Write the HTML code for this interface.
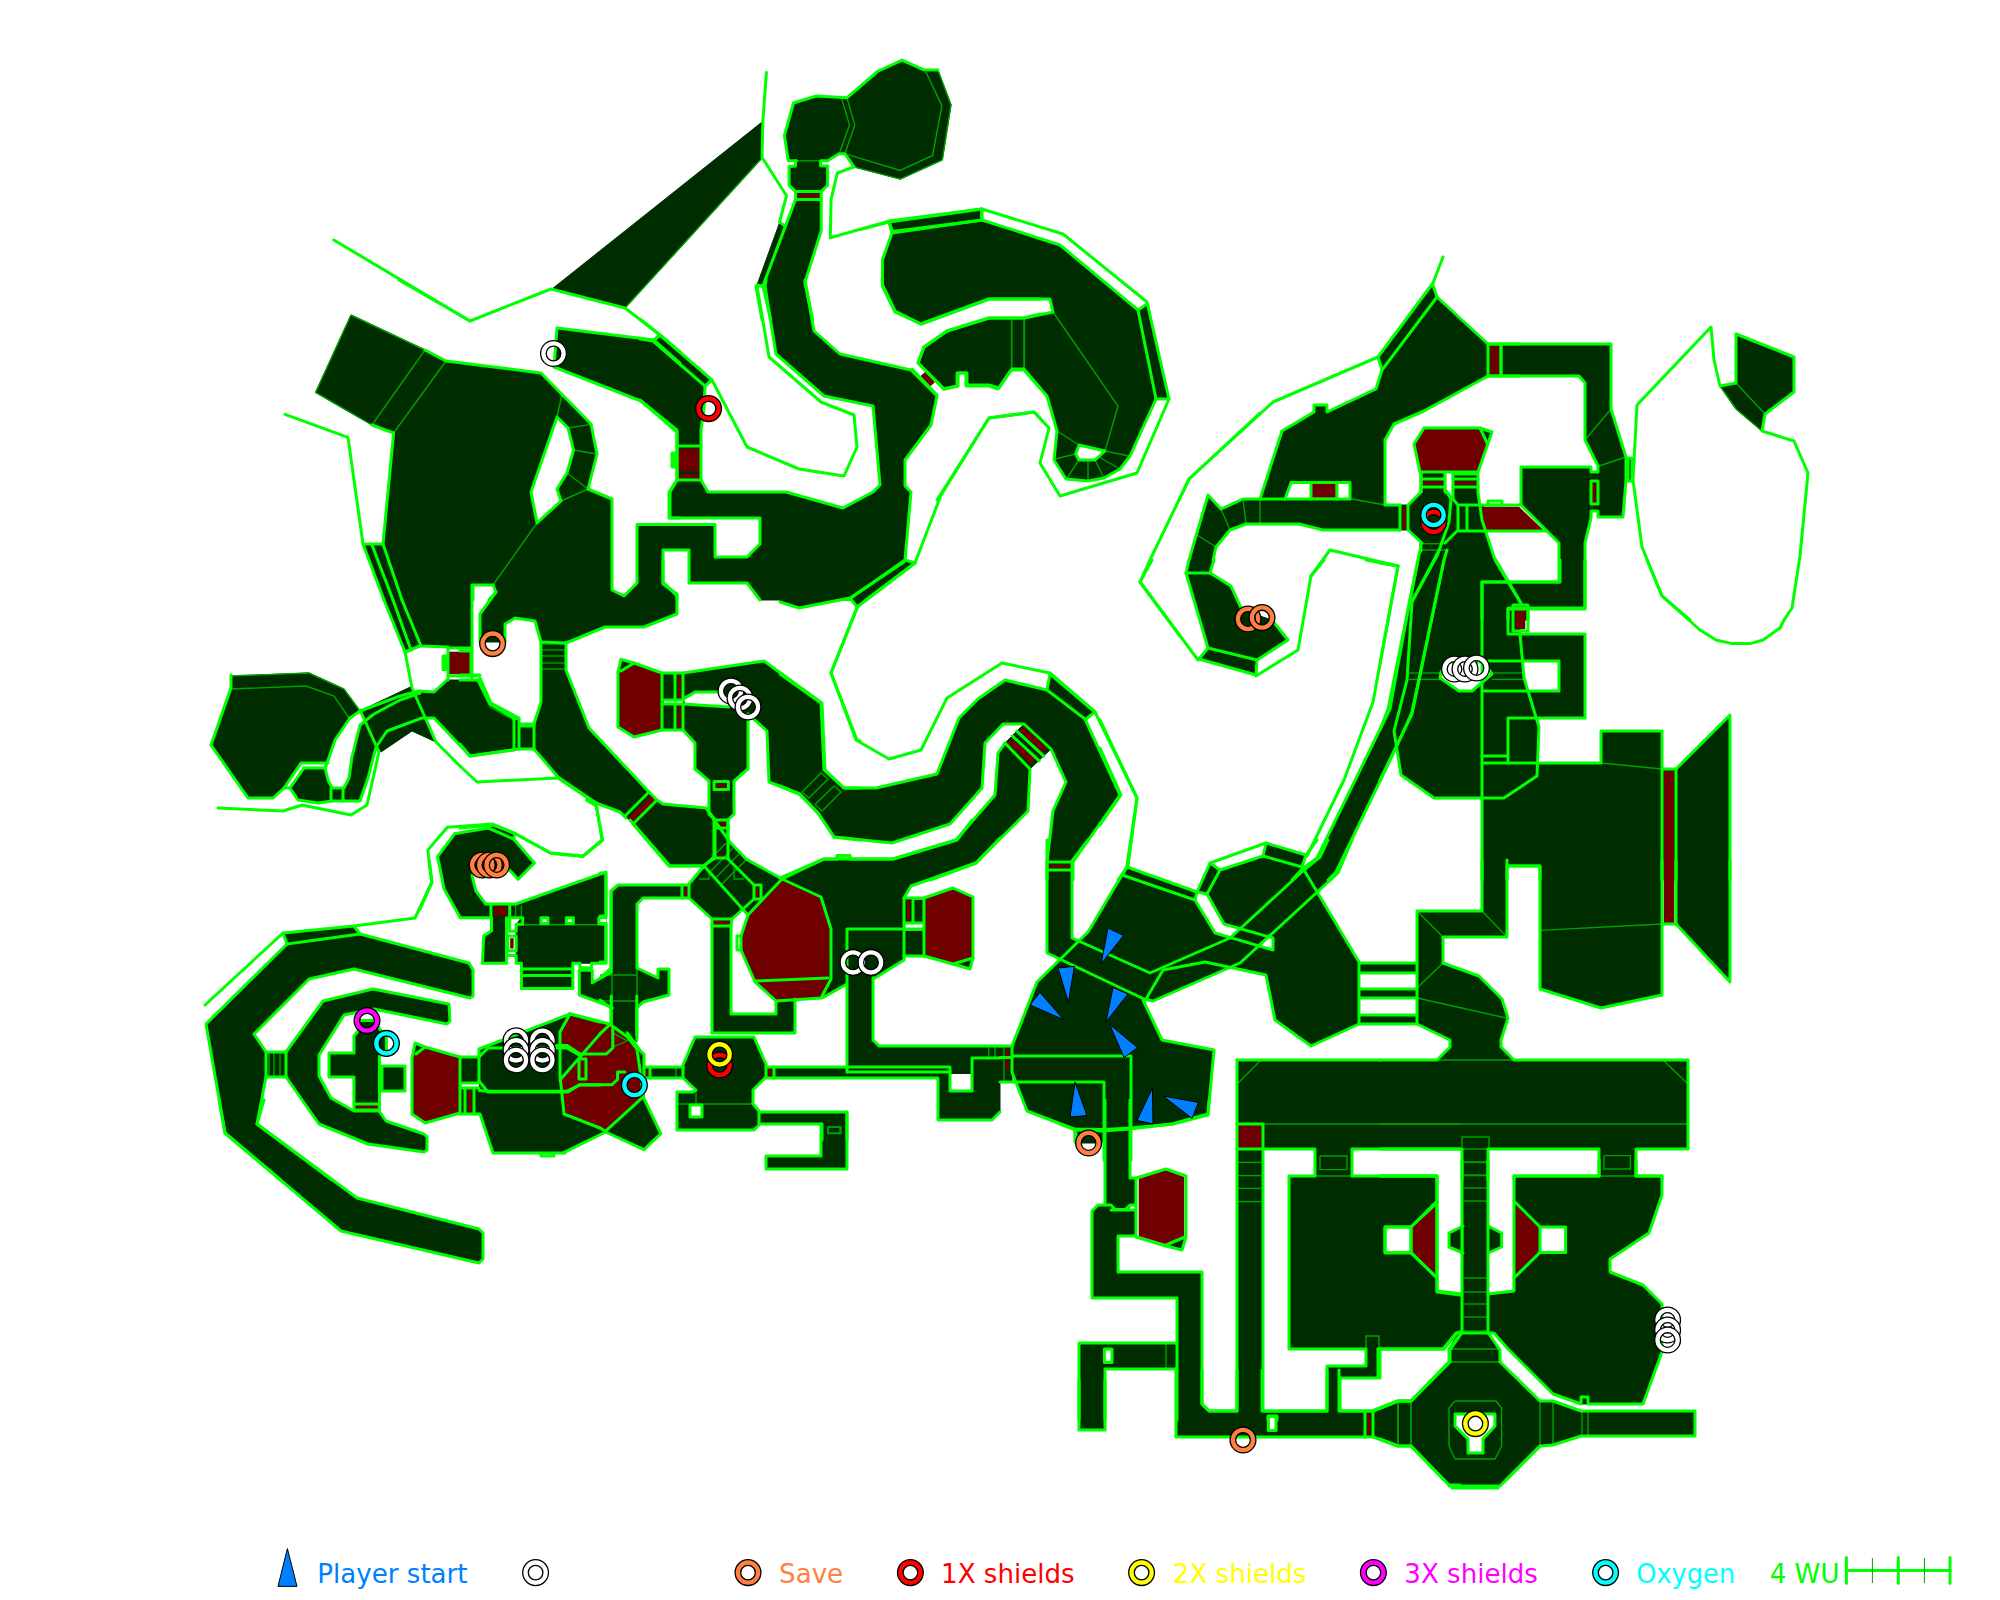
<!DOCTYPE html>
<html><head><meta charset="utf-8"><title>Map</title>
<style>html,body{margin:0;padding:0;background:#fff}svg{display:block}text{font-family:"DejaVu Sans","Liberation Sans",sans-serif}</style>
</head><body>
<svg width="2000" height="1600" viewBox="0 0 2000 1600">
<rect width="2000" height="1600" fill="#fff"/>
<g fill="#002d00" stroke="#002d00" stroke-width="1" stroke-linejoin="round">
<polygon points="793.5,103.0 816.3,96.0 846.9,97.8 854.8,124.9 845.1,152.9 839.0,153.8 827.6,159.9 788.3,159.9 784.4,135.4"/>
<polygon points="846.9,97.8 877.5,71.5 902.0,60.1 923.9,69.8 937.9,70.1 951.0,104.8 942.3,159.9 900.3,179.1 853.9,166.9 845.1,152.9 854.8,124.9"/>
<polygon points="797.0,159.9 819.4,159.9 819.4,167.4 797.0,167.4"/>
<polygon points="789.1,167.4 827.3,167.4 827.3,185.3 821.2,190.9 795.6,190.9 789.1,185.3"/>
<polygon points="795.6,190.9 821.2,190.9 821.2,200.1 795.6,200.1"/>
<polygon points="779.5,222.9 783.9,225.5 762.9,285.9 757.1,284.7"/>
<polygon points="351.0,315.0 425.0,350.0 446.0,361.0 393.6,433.0 372.0,425.0 315.6,392.4"/>
<polygon points="446.0,361.0 541.0,373.0 561.6,396.0 557.0,417.0 531.0,492.0 537.0,523.0 493.0,585.0 473.0,585.0 473.0,600.0 402.0,600.0 383.0,544.0 393.6,433.0"/>
<polygon points="561.6,396.0 591.0,424.0 597.0,454.0 588.0,489.0 561.0,501.0 557.0,489.0 567.0,473.0 573.6,450.0 568.0,428.0 557.0,417.0"/>
<polygon points="537.0,523.0 561.0,501.0 588.0,489.0 612.0,499.0 612.0,590.0 624.0,596.0 637.0,583.0 637.0,524.4 662.0,524.4 662.0,600.0 489.0,600.0 496.0,592.0 493.0,585.0"/>
<polygon points="363.6,545.0 383.0,545.0 402.0,600.0 384.4,600.0"/>
<polygon points="557.0,328.0 654.0,340.0 660.0,335.0 680.0,352.0 680.0,480.0 677.0,480.0 677.0,430.0 641.0,401.0 554.0,367.0"/>
<polygon points="677.0,480.0 669.0,492.0 669.0,518.0 680.0,518.0 680.0,480.0"/>
<polygon points="552.0,289.0 762.0,122.0 762.0,158.0 625.0,308.0"/>
<polygon points="655.0,339.0 660.0,335.0 710.0,379.0 705.0,385.0"/>
<polygon points="640.0,339.0 653.0,341.0 705.0,386.0 704.0,408.0 701.0,430.0 701.0,446.0 677.0,446.0 677.0,432.0 640.0,400.0"/>
<polygon points="677.0,446.0 701.0,446.0 701.0,480.0 677.0,480.0"/>
<polygon points="765.0,286.0 766.0,280.0 805.0,280.0 814.0,331.0 840.0,354.0 911.0,370.0 937.0,396.0 931.0,425.0 905.0,460.0 905.0,486.0 911.0,492.0 905.0,560.0 851.0,598.0 848.0,600.0 760.0,600.0 747.0,583.0 689.0,583.0 689.0,550.0 663.0,550.0 663.0,584.0 677.0,594.0 677.0,600.0 640.0,600.0 640.0,524.4 715.0,524.4 715.0,557.0 747.0,557.0 760.0,544.0 760.0,518.0 670.0,518.0 670.0,492.0 677.0,480.0 701.0,480.0 708.0,492.0 786.0,492.0 843.0,508.0 873.0,492.0 880.0,485.0 873.0,406.0 824.0,396.0 776.0,354.0"/>
<polygon points="905.0,560.0 915.0,563.0 866.0,600.0 848.0,600.0"/>
<polygon points="882.0,280.0 883.0,286.0 895.0,311.0 921.0,324.0 989.0,299.0 1040.0,299.0 1040.0,280.0"/>
<polygon points="918.0,363.0 924.0,347.0 947.0,331.0 989.0,318.0 1024.0,318.0 1040.0,314.0 1040.0,388.0 1024.0,369.0 1012.0,369.0 999.0,388.0 989.0,385.0 967.0,385.0 967.0,373.0 957.0,373.0 957.0,386.0 944.0,389.0"/>
<polygon points="889.0,222.0 982.0,209.0 982.0,220.0 892.0,233.0"/>
<polygon points="892.0,233.0 982.0,220.0 1060.0,245.0 1138.0,310.0 1156.0,399.0 1130.0,456.0 1120.0,469.0 1104.0,478.0 1088.0,481.0 1066.0,479.0 1054.0,460.0 1057.0,431.0 1047.0,396.0 1024.0,370.0 1011.0,370.0 998.0,389.0 989.0,386.0 966.0,386.0 966.0,373.0 958.0,373.0 958.0,386.0 944.0,389.0 918.0,363.0 924.0,347.0 947.0,331.0 989.0,318.0 1024.0,318.0 1053.0,312.0 1050.0,299.0 989.0,299.0 921.0,324.0 895.0,312.0 882.4,286.0 882.4,260.0"/>
<polygon points="1138.0,310.0 1147.0,304.0 1168.0,398.0 1156.0,399.0"/>
<polygon points="795.3,200.1 821.2,200.1 821.2,230.8 804.9,282.4 812.8,320.0 770.8,320.0 762.9,285.9"/>
<polygon points="1437.0,297.0 1488.0,344.0 1488.0,376.0 1424.0,411.0 1394.0,424.0 1385.0,440.0 1385.0,505.0 1352.0,499.0 1350.0,499.0 1350.0,482.4 1291.0,482.4 1285.0,499.0 1260.0,499.0 1282.0,431.0 1314.0,412.0 1314.0,405.0 1327.0,405.0 1327.0,412.0 1376.0,389.0 1382.0,370.0"/>
<polygon points="1378.0,357.0 1433.0,285.0 1437.0,297.0 1382.0,370.0"/>
<polygon points="1488.0,344.0 1520.0,344.0 1520.0,376.0 1488.0,376.0"/>
<polygon points="1208.0,495.0 1221.0,509.0 1243.0,499.0 1352.0,499.0 1385.0,505.0 1400.0,505.0 1400.0,530.0 1323.0,530.0 1299.0,524.0 1246.0,524.0 1230.0,530.0 1216.0,547.0 1213.0,560.0 1189.0,560.0"/>
<polygon points="1400.0,505.0 1408.0,505.0 1408.0,530.0 1400.0,530.0"/>
<polygon points="1408.0,505.0 1422.0,492.0 1445.0,492.0 1458.0,505.0 1458.0,530.0 1445.0,543.0 1422.0,543.0 1408.0,530.0"/>
<polygon points="1424.0,428.0 1480.0,428.0 1492.0,432.0 1478.0,472.0 1420.0,472.0 1414.0,444.0"/>
<polygon points="1421.0,472.0 1445.0,472.0 1445.0,492.0 1421.0,492.0"/>
<polygon points="1501.0,344.0 1611.0,344.0 1611.0,409.0 1626.0,457.0 1626.0,480.0 1623.0,517.0 1598.0,517.0 1598.0,466.0 1585.0,440.0 1585.0,383.0 1579.0,376.0 1501.0,376.0"/>
<polygon points="1628.0,458.0 1632.0,458.0 1632.0,481.0 1628.0,481.0"/>
<polygon points="1521.0,467.0 1591.0,467.0 1591.0,518.0 1585.0,543.0 1585.0,609.0 1528.0,609.0 1528.0,620.0 1482.0,620.0 1482.0,582.0 1559.0,582.0 1559.0,543.0 1521.0,505.0"/>
<polygon points="1591.0,472.0 1598.0,472.0 1598.0,511.0 1591.0,511.0"/>
<polygon points="1461.0,506.0 1484.0,506.0 1484.0,530.0 1461.0,530.0"/>
<polygon points="1453.0,474.0 1478.0,474.0 1478.0,492.0 1482.0,520.0 1494.0,557.0 1521.0,603.0 1521.0,609.0 1508.0,609.0 1508.0,620.0 1420.0,620.0 1420.0,543.0 1446.0,543.0 1459.0,531.0 1459.0,505.0 1453.0,499.0"/>
<polygon points="1736.0,334.0 1794.0,357.0 1794.0,392.0 1765.0,414.0 1736.0,383.0"/>
<polygon points="1720.0,386.0 1736.0,383.0 1765.0,414.0 1762.0,431.0 1736.0,409.0"/>
<polygon points="1492.0,550.0 1495.0,560.0 1520.0,602.0 1520.0,634.0 1524.0,678.0 1539.0,727.0 1537.0,776.0 1504.0,798.0 1434.0,798.0 1401.0,775.0 1394.0,731.0 1388.0,709.0 1420.0,550.0"/>
<polygon points="1482.0,582.0 1560.0,582.0 1560.0,560.0 1585.0,560.0 1585.0,608.0 1508.0,608.0 1508.0,634.0 1585.0,634.0 1585.0,718.0 1508.0,718.0 1508.0,762.0 1482.0,762.0"/>
<polygon points="1508.0,718.0 1536.0,718.0 1539.0,727.0 1537.0,762.0 1508.0,762.0"/>
<polygon points="1482.0,763.0 1601.0,763.0 1601.0,731.0 1662.0,731.0 1662.0,769.0 1676.0,769.0 1730.0,715.0 1730.0,880.0 1540.0,880.0 1540.0,866.0 1507.0,866.0 1507.0,880.0 1482.0,880.0"/>
<polygon points="1540.0,860.0 1662.0,860.0 1662.0,995.0 1601.0,1008.0 1540.0,989.0"/>
<polygon points="1676.0,860.0 1730.0,860.0 1730.0,982.0 1676.0,924.0"/>
<polygon points="1482.0,860.0 1507.0,860.0 1507.0,937.0 1443.0,937.0 1443.0,963.0 1479.0,976.0 1502.0,999.0 1508.0,1018.0 1501.0,1040.0 1501.0,1047.0 1514.0,1060.0 1437.0,1060.0 1450.0,1047.0 1450.0,1040.0 1417.0,1024.0 1417.0,911.0 1482.0,911.0"/>
<polygon points="1380.0,1060.0 1688.0,1060.0 1688.0,1149.0 1636.0,1149.0 1636.0,1180.0 1599.0,1180.0 1599.0,1149.0 1488.0,1149.0 1488.0,1180.0 1462.0,1180.0 1462.0,1149.0 1380.0,1149.0"/>
<polygon points="1360.0,963.0 1417.0,963.0 1417.0,973.0 1360.0,973.0"/>
<polygon points="1360.0,989.0 1417.0,989.0 1417.0,998.0 1360.0,998.0"/>
<polygon points="1360.0,1015.0 1417.0,1015.0 1417.0,1024.0 1360.0,1024.0"/>
<polygon points="1462.0,1160.0 1488.0,1160.0 1488.0,1333.0 1462.0,1333.0"/>
<polygon points="1449.0,1233.0 1463.0,1226.0 1488.0,1226.0 1501.6,1233.0 1501.6,1247.0 1488.0,1253.0 1463.0,1253.0 1449.0,1247.0"/>
<polygon points="1514.0,1176.0 1599.0,1176.0 1599.0,1160.0 1636.0,1160.0 1636.0,1176.0 1662.0,1176.0 1662.0,1195.0 1649.0,1233.0 1610.0,1259.0 1610.0,1272.0 1643.0,1285.0 1662.0,1304.0 1662.0,1352.0 1643.0,1404.0 1581.0,1404.0 1553.0,1394.0 1508.0,1349.0 1494.0,1333.0 1488.0,1333.0 1488.0,1294.0 1514.0,1291.0"/>
<polygon points="1380.0,1176.0 1437.0,1176.0 1437.0,1291.0 1462.0,1294.0 1462.0,1333.0 1456.0,1333.0 1443.0,1349.0 1380.0,1349.0"/>
<polygon points="1461.0,1334.0 1489.0,1334.0 1500.0,1350.0 1500.0,1362.0 1540.0,1401.0 1540.0,1446.0 1506.0,1480.0 1444.0,1480.0 1411.0,1446.0 1411.0,1401.0 1450.0,1362.0 1450.0,1350.0"/>
<polygon points="1540.0,1401.0 1553.0,1401.0 1581.0,1411.0 1695.0,1411.0 1695.0,1436.0 1581.0,1436.0 1553.0,1445.0 1540.0,1445.0"/>
<polygon points="1411.0,1401.0 1398.0,1401.0 1380.0,1408.0 1380.0,1439.0 1398.0,1446.0 1411.0,1446.0"/>
<polygon points="1237.0,1060.0 1460.0,1060.0 1460.0,1149.0 1352.0,1149.0 1352.0,1176.0 1315.0,1176.0 1315.0,1149.0 1263.0,1149.0 1263.0,1412.0 1262.0,1420.0 1237.0,1420.0"/>
<polygon points="1289.0,1176.0 1437.0,1176.0 1437.0,1292.0 1460.0,1295.0 1460.0,1332.0 1457.0,1333.0 1444.0,1349.0 1378.0,1349.0 1378.0,1378.0 1340.0,1378.0 1340.0,1411.0 1327.0,1411.0 1327.0,1366.0 1366.0,1366.0 1366.0,1349.0 1289.0,1349.0"/>
<polygon points="1460.0,1332.0 1460.0,1420.0 1372.0,1420.0 1372.0,1411.0 1398.0,1401.0 1411.0,1401.0 1449.0,1362.0 1449.0,1349.0 1457.0,1334.0"/>
<polygon points="1105.0,1130.0 1130.0,1130.0 1130.0,1178.0 1136.0,1178.0 1136.0,1236.0 1118.0,1236.0 1118.0,1272.0 1202.0,1272.0 1202.0,1404.0 1209.0,1411.0 1237.0,1411.0 1237.0,1420.0 1177.0,1420.0 1177.0,1298.0 1092.0,1298.0 1092.0,1211.0 1098.0,1205.0 1105.0,1205.0"/>
<polygon points="1166.0,1245.0 1184.0,1237.0 1182.0,1249.0"/>
<polygon points="1060.0,1100.0 1209.0,1100.0 1208.0,1114.0 1172.0,1124.0 1130.0,1129.0 1102.0,1131.0 1076.0,1130.0 1060.0,1124.0"/>
<polygon points="1076.0,1130.0 1101.0,1131.0 1101.0,1143.0 1076.0,1143.0"/>
<polygon points="1079.0,1343.0 1176.0,1343.0 1176.0,1369.0 1105.0,1369.0 1105.0,1420.0 1079.0,1420.0"/>
<polygon points="1079.0,1380.0 1105.0,1380.0 1105.0,1430.0 1079.0,1430.0"/>
<polygon points="1176.0,1370.0 1202.0,1370.0 1202.0,1404.0 1209.0,1411.0 1237.0,1411.0 1237.0,1370.0 1262.0,1370.0 1262.0,1411.0 1327.0,1411.0 1327.0,1370.0 1339.0,1370.0 1339.0,1411.0 1365.0,1411.0 1365.0,1437.0 1176.0,1437.0"/>
<polygon points="1365.0,1411.0 1373.0,1411.0 1373.0,1437.0 1365.0,1437.0"/>
<polygon points="1373.0,1411.0 1398.0,1401.0 1411.0,1401.0 1411.0,1446.0 1398.0,1446.0 1373.0,1437.0"/>
<polygon points="1411.0,1446.0 1449.0,1486.0 1500.0,1486.0 1540.0,1446.0 1540.0,1400.0 1411.0,1400.0"/>
<polygon points="1047.0,840.0 1088.0,840.0 1072.0,861.0 1072.0,939.0 1150.0,974.0 1230.0,939.0 1304.0,871.0 1320.0,857.0 1328.0,840.0 1352.0,840.0 1338.0,873.0 1240.0,963.0 1153.0,1001.0 1144.0,999.0 1047.0,953.0"/>
<polygon points="1012.0,1046.0 1037.0,982.0 1088.0,932.0 1122.0,875.0 1127.0,867.0 1197.0,892.0 1195.0,900.0 1215.0,933.0 1230.0,938.0 1150.0,974.0 1143.0,1000.0 1162.0,1040.0 1214.0,1050.0 1208.0,1115.0 1173.0,1124.0 1131.0,1128.0 1131.0,1160.0 1104.0,1160.0 1104.0,1142.0 1075.0,1142.0 1074.0,1129.0 1027.0,1111.0 1012.0,1072.0"/>
<polygon points="1220.0,870.0 1263.0,856.0 1302.0,867.0 1304.0,870.0 1316.0,890.0 1270.0,936.0 1224.0,924.0 1207.0,894.0"/>
<polygon points="1266.0,843.0 1306.0,855.0 1302.0,867.0 1263.0,856.0"/>
<polygon points="1210.0,863.0 1220.0,870.0 1207.0,894.0 1197.0,891.0"/>
<polygon points="1304.0,870.0 1359.0,962.0 1359.0,1024.0 1311.0,1046.0 1275.0,1020.0 1266.0,975.0 1205.0,962.0 1163.0,970.0 1147.0,999.0 1153.0,1001.0 1240.0,963.0 1270.0,936.0"/>
<polygon points="1000.0,1046.0 1012.0,1046.0 1012.0,1082.0 1000.0,1082.0"/>
<polygon points="1418.0,560.0 1444.0,560.0 1412.0,712.0 1396.0,748.0 1336.0,872.0 1328.0,880.0 1292.0,880.0 1302.0,869.0 1317.0,858.0 1390.0,709.0 1408.0,610.0"/>
<polygon points="1186.0,573.0 1189.0,560.0 1214.0,560.0 1210.0,573.0 1231.0,586.0 1242.0,610.0 1272.0,620.0 1288.0,640.0 1257.0,660.0 1256.0,675.0 1199.0,659.0 1208.0,648.0"/>
<polygon points="1100.0,750.0 1120.0,795.0 1100.0,824.0"/>
<polygon points="780.0,590.0 860.0,590.0 850.0,598.0 799.0,608.0 780.0,602.0"/>
<polygon points="848.0,600.0 868.0,598.0 857.0,607.0 851.0,599.0"/>
<polygon points="780.0,674.0 821.0,703.0 824.0,770.0 844.0,788.0 876.0,788.0 937.0,774.0 959.0,718.0 978.0,699.0 1005.0,680.0 1047.0,690.0 1085.0,719.0 1120.0,795.0 1073.0,862.0 1073.0,880.0 1047.0,880.0 1047.0,862.0 1053.0,811.0 1066.0,782.0 1051.0,749.0 1024.0,724.0 1003.0,724.0 985.0,743.0 982.0,788.0 950.0,824.0 892.0,843.0 834.0,837.0 818.0,813.0 799.0,794.0 780.0,786.0"/>
<polygon points="1050.0,674.0 1095.0,712.0 1086.0,719.0 1047.0,690.0"/>
<polygon points="1005.0,743.0 1030.0,769.0 1028.0,811.0 976.0,863.0 930.0,880.0 780.0,880.0 780.0,878.0 824.0,859.0 893.0,859.0 956.0,840.0 995.0,795.0 998.0,753.0"/>
<polygon points="1005.0,743.0 1024.0,724.0 1051.0,749.0 1030.0,769.0"/>
<polygon points="489.0,600.0 480.0,614.0 480.0,642.0 505.0,642.0 505.0,624.0 515.0,618.0 535.0,621.0 541.0,642.0 566.0,643.0 605.0,627.0 644.0,627.0 677.0,614.0 677.0,598.0 489.0,598.0"/>
<polygon points="541.0,642.0 566.0,643.0 566.0,670.0 541.0,670.0"/>
<polygon points="541.0,670.0 566.0,670.0 589.0,728.0 649.0,792.0 657.0,800.0 663.0,804.0 706.0,808.0 715.0,820.0 715.0,858.0 703.0,866.0 669.0,866.0 633.0,824.0 625.0,816.0 620.0,812.0 596.0,803.0 558.0,777.0 534.0,749.0 534.0,724.0 541.0,702.0"/>
<polygon points="460.0,680.0 478.0,680.0 490.0,704.0 514.0,718.0 519.0,719.0 519.0,726.0 534.0,726.0 534.0,749.0 519.0,749.0 470.0,756.0 460.0,744.0"/>
<polygon points="618.0,672.0 621.0,659.4 634.0,663.0 662.0,673.0 662.0,730.0 634.0,737.0 618.0,727.0"/>
<polygon points="662.0,673.0 683.0,673.0 683.0,730.0 662.0,730.0"/>
<polygon points="683.0,673.0 764.0,661.0 822.0,703.0 825.0,770.0 844.0,788.0 860.0,788.0 860.0,840.0 834.0,837.0 818.0,813.0 800.0,794.0 769.0,782.0 767.0,731.0 748.0,714.0 748.0,769.0 734.0,781.0 734.0,814.0 728.0,820.0 715.0,820.0 709.0,814.0 709.0,781.0 695.0,769.0 695.0,743.0 683.0,730.0"/>
<polygon points="715.0,820.0 728.0,820.0 728.0,858.0 715.0,858.0"/>
<polygon points="630.0,820.0 714.0,820.0 714.0,857.0 704.0,866.0 670.0,866.0"/>
<polygon points="689.0,884.0 714.0,859.0 728.0,859.0 754.0,885.0 754.0,899.0 732.0,919.0 712.0,919.0 689.0,898.0"/>
<polygon points="728.0,840.0 746.0,859.0 782.0,879.0 748.0,915.0 741.0,909.0 754.0,899.0 754.0,885.0 728.0,859.0"/>
<polygon points="682.0,885.0 689.0,885.0 689.0,898.0 682.0,898.0"/>
<polygon points="754.0,885.0 761.0,885.0 761.0,899.0 754.0,899.0"/>
<polygon points="712.0,919.0 732.0,919.0 731.0,926.0 712.0,926.0"/>
<polygon points="611.0,891.0 618.0,885.0 682.0,885.0 682.0,898.0 643.0,898.0 637.0,904.0 637.0,968.0 658.0,978.0 658.0,969.0 669.0,969.0 669.0,995.0 643.0,1002.0 637.0,1008.0 637.0,1042.0 611.0,1024.0 611.0,1008.0 600.0,1000.0 600.0,978.0 611.0,968.0"/>
<polygon points="782.0,879.0 824.0,859.0 893.0,859.0 957.0,840.0 972.0,820.0 1000.0,820.0 1000.0,838.0 976.0,863.0 911.0,886.0 904.0,898.0 904.0,931.0 847.0,931.0 847.0,984.0 824.0,997.0 821.0,998.0 831.0,979.0 831.0,929.0 821.0,897.0"/>
<polygon points="741.0,936.0 748.0,915.0 782.0,879.0 821.0,897.0 831.0,929.0 831.0,979.0 821.0,998.0 776.0,1001.0 755.0,982.0 741.0,950.0"/>
<polygon points="847.0,931.0 923.0,931.0 923.0,956.0 904.0,956.0 904.0,960.0 875.0,978.0 873.0,978.0 873.0,1040.0 879.0,1046.0 1000.0,1046.0 1000.0,1112.0 992.0,1120.0 938.0,1120.0 938.0,1078.0 774.0,1078.0 774.0,1067.0 847.0,1067.0"/>
<polygon points="913.0,900.0 922.4,900.0 922.4,922.0 913.0,922.0"/>
<polygon points="905.0,899.0 913.0,899.0 913.0,923.0 905.0,923.0"/>
<polygon points="924.0,898.0 953.0,888.0 973.0,897.0 973.0,958.0 970.0,969.0 953.0,964.0 924.0,956.0"/>
<polygon points="712.0,926.0 731.0,926.0 731.0,1014.0 776.0,1014.0 776.0,1001.0 795.0,999.0 795.0,1033.0 712.0,1033.0"/>
<polygon points="695.0,1037.0 754.0,1037.0 766.0,1064.0 766.0,1077.0 753.0,1090.0 753.0,1104.0 759.0,1111.0 759.0,1125.0 754.0,1130.0 677.0,1130.0 677.0,1092.0 693.0,1092.0 696.0,1090.0 683.0,1078.0 683.0,1065.0"/>
<polygon points="645.0,1067.0 683.0,1067.0 683.0,1078.0 645.0,1078.0"/>
<polygon points="766.0,1067.0 774.0,1067.0 774.0,1078.0 766.0,1078.0"/>
<polygon points="759.0,1112.0 847.0,1112.0 847.0,1140.0 822.0,1140.0 822.0,1124.0 759.0,1124.0"/>
<polygon points="287.0,944.0 360.0,934.0 469.0,963.0 473.0,970.0 473.0,996.0 470.0,998.0 354.0,969.0 309.0,979.0 254.0,1034.0 266.0,1052.0 266.0,1077.0 257.0,1124.0 332.0,1180.0 280.6,1180.0 225.0,1133.0 206.0,1024.0"/>
<polygon points="283.0,933.0 354.0,926.0 360.0,934.0 287.0,944.0"/>
<polygon points="266.0,1052.0 286.0,1052.0 286.0,1077.0 266.0,1077.0"/>
<polygon points="286.0,1052.0 323.0,1001.0 373.0,989.0 449.0,1004.0 450.0,1021.0 447.0,1024.0 374.0,1009.0 344.0,1015.0 319.0,1055.0 319.0,1076.0 331.0,1098.0 354.0,1111.0 379.0,1111.0 386.0,1121.0 424.0,1134.0 427.0,1137.0 427.0,1150.0 424.0,1152.0 368.0,1144.0 319.0,1124.0 286.0,1077.0"/>
<polygon points="354.0,1036.0 358.0,1031.0 360.0,1020.4 373.0,1020.4 386.4,1037.4 386.4,1050.0 379.4,1056.4 379.4,1110.0 354.0,1110.0 354.0,1077.0 329.0,1077.0 329.0,1053.0 354.0,1053.0"/>
<polygon points="382.0,1066.0 405.0,1066.0 405.0,1091.0 382.0,1091.0"/>
<polygon points="412.0,1058.0 415.0,1043.0 425.0,1047.0 460.0,1057.0 460.0,1113.0 425.0,1123.0 412.0,1114.0"/>
<polygon points="460.0,1057.0 479.0,1057.0 479.0,1049.0 570.0,1014.0 600.0,1022.0 600.0,1128.0 565.0,1153.0 493.0,1153.0 480.0,1114.0 460.0,1114.0"/>
<polygon points="454.5,833.8 488.3,828.0 490.2,825.4 514.9,833.5 513.9,839.0 534.4,863.1 518.2,879.3 508.4,869.6 472.0,872.8 475.9,891.0 485.7,904.0 491.5,904.0 491.5,917.7 460.3,917.7 444.1,889.1 437.6,856.6"/>
<polygon points="485.7,905.3 521.4,905.3 521.4,917.7 485.7,917.7"/>
<polygon points="516.2,924.8 521.4,917.7 521.4,905.3 515.6,904.0 605.9,872.8 605.9,963.2 572.8,963.2 572.8,988.5 521.4,988.5 521.4,963.2 516.2,963.2"/>
<polygon points="491.5,917.7 506.5,917.7 506.5,963.2 482.4,963.2 483.7,935.9 491.5,930.7"/>
<polygon points="579.3,970.3 592.3,970.3 592.3,982.7 611.1,972.3 611.1,1008.0 607.2,1005.4 579.3,995.0"/>
<polygon points="569.6,1013.6 609.6,1024.0 627.2,1036.8 636.8,1048.8 644.0,1054.4 644.0,1096.8 660.8,1133.6 644.0,1149.6 605.6,1132.0 563.2,1152.8 560.0,1082.4"/>
<polygon points="231.0,676.0 309.0,673.0 344.0,689.0 360.0,711.0 350.0,718.0 335.0,740.0 328.0,763.0 301.0,763.0 284.0,788.0 273.0,798.0 248.0,798.0 211.0,745.0 231.0,688.0"/>
<polygon points="361.0,710.4 411.6,686.4 424.0,716.0 436.0,742.0 412.0,731.0 381.0,752.0"/>
<polygon points="374.0,714.0 400.0,700.0 420.0,693.0 426.0,718.0 387.0,731.0 376.0,747.0 368.0,778.0 360.0,801.0 345.0,801.0 345.0,788.0 349.0,778.0 352.0,757.0 360.0,725.0"/>
<polygon points="304.0,768.0 325.0,768.0 328.0,780.0 332.0,788.0 345.0,788.0 345.0,801.0 332.0,801.0 318.0,803.0 298.0,800.0 290.0,788.0"/>
<polygon points="420.0,692.0 434.0,692.0 447.0,680.0 478.0,680.0 490.0,704.0 518.0,719.0 518.0,749.0 470.0,756.0 434.0,718.0 426.0,718.0"/>
<polygon points="402.0,598.0 421.0,646.0 448.0,647.0 448.0,648.0 472.0,648.0 472.0,598.0"/>
<polygon points="383.4,598.0 402.0,598.0 421.0,646.0 411.0,650.0 405.0,651.6"/>
<polygon points="219.2,1100.0 264.0,1100.0 257.0,1124.0 357.0,1198.0 479.0,1229.0 483.0,1233.0 483.0,1259.0 479.0,1263.0 341.0,1231.0 225.0,1133.0"/>
<polygon points="821.0,1124.0 847.0,1124.0 847.0,1169.0 766.0,1169.0 766.0,1156.0 821.0,1156.0"/>
</g>
<g fill="#fff">
<polygon points="1079.0,445.0 1105.0,451.0 1095.0,460.0 1079.0,460.0 1075.6,454.0"/>
<polygon points="1441.0,672.0 1448.0,662.0 1484.0,662.0 1492.0,674.0 1472.0,691.0 1459.0,691.0 1440.0,678.0"/>
<polygon points="1522.4,661.0 1559.0,661.0 1559.0,691.0 1528.0,691.0 1524.0,678.0"/>
<polygon points="1540.0,1227.0 1565.6,1227.0 1565.6,1252.4 1540.0,1252.4"/>
<polygon points="1385.0,1227.0 1410.4,1227.0 1410.4,1252.4 1385.0,1252.4"/>
<polygon points="1455.0,1414.0 1495.0,1414.0 1495.0,1426.0 1483.0,1439.0 1483.0,1453.0 1468.0,1453.0 1468.0,1439.0 1455.0,1426.0"/>
<polygon points="1386.0,1228.0 1410.0,1228.0 1410.0,1252.0 1386.0,1252.0"/>
<polygon points="1128.0,1210.0 1131.0,1206.0 1135.6,1206.0 1135.6,1210.0"/>
<polygon points="1104.4,1349.0 1112.0,1349.0 1112.0,1362.4 1104.4,1362.4"/>
<polygon points="1268.4,1416.4 1276.0,1416.4 1276.0,1430.4 1268.4,1430.4"/>
<polygon points="1198.0,893.6 1207.0,895.0 1224.0,924.0 1239.0,929.0 1230.0,937.4 1215.0,932.4"/>
<polygon points="1268.0,937.4 1272.0,938.4 1272.0,949.0 1260.0,945.4"/>
<polygon points="664.0,700.0 683.0,700.0 683.0,704.0 664.0,704.0"/>
<polygon points="684.0,700.0 696.0,692.8 721.0,692.8 729.0,706.4 685.0,703.2"/>
<polygon points="951.0,1074.0 972.0,1074.0 972.0,1091.0 951.0,1091.0"/>
<polygon points="690.0,1105.0 702.0,1105.0 702.0,1117.0 690.0,1117.0"/>
<polygon points="461.0,1083.0 479.0,1083.0 479.0,1088.0 461.0,1088.0"/>
<polygon points="540.9,917.7 548.1,917.7 548.1,923.5 540.9,923.5"/>
<polygon points="566.3,917.7 573.4,917.7 573.4,923.5 566.3,923.5"/>
<polygon points="598.8,917.7 606.2,917.7 606.2,923.5 598.8,923.5"/>
</g>
<g fill="#700000" stroke="#700000" stroke-width="0.6">
<polygon points="797.0,194.0 819.4,194.0 819.4,197.5 797.0,197.5"/>
<polygon points="678.0,449.0 700.0,449.0 700.0,471.0 678.0,471.0"/>
<polygon points="678.0,474.4 700.0,474.4 700.0,478.0 678.0,478.0"/>
<polygon points="921.0,376.0 926.0,372.4 934.4,382.0 930.0,386.0"/>
<polygon points="921.0,376.0 925.0,372.4 934.4,382.4 930.0,386.0"/>
<polygon points="1490.4,346.0 1499.0,346.0 1499.0,374.4 1490.4,374.4"/>
<polygon points="1312.0,484.0 1335.6,484.0 1335.6,497.6 1312.0,497.6"/>
<polygon points="1403.0,507.0 1406.4,507.0 1406.4,529.0 1403.0,529.0"/>
<polygon points="1424.0,430.0 1479.0,430.0 1487.0,444.0 1478.0,471.0 1421.0,471.0 1416.0,444.0"/>
<polygon points="1422.0,481.6 1444.4,481.6 1444.4,484.4 1422.0,484.4"/>
<polygon points="1592.4,481.0 1596.4,481.0 1596.4,504.0 1592.4,504.0"/>
<polygon points="1481.0,507.0 1519.0,507.0 1543.0,530.0 1484.0,530.0"/>
<polygon points="1454.0,481.6 1477.0,481.6 1477.0,484.4 1454.0,484.4"/>
<polygon points="1516.0,610.0 1525.0,610.0 1525.0,620.0 1516.0,620.0"/>
<polygon points="1516.0,610.0 1525.0,610.0 1525.0,629.0 1516.0,629.0"/>
<polygon points="1664.0,771.0 1674.0,771.0 1674.0,880.0 1664.0,880.0"/>
<polygon points="1664.0,860.0 1674.0,860.0 1674.0,923.0 1664.0,923.0"/>
<polygon points="1516.0,1205.0 1538.0,1228.0 1538.0,1252.0 1516.0,1274.0"/>
<polygon points="1412.0,1228.0 1435.0,1205.0 1435.0,1277.0 1412.0,1252.0"/>
<polygon points="1238.4,1125.6 1261.0,1125.6 1261.0,1148.0 1238.4,1148.0"/>
<polygon points="1413.0,1227.0 1435.0,1205.0 1435.0,1274.0 1413.0,1251.0"/>
<polygon points="1139.0,1179.0 1166.0,1170.0 1184.0,1177.0 1184.0,1236.0 1166.0,1244.0 1139.0,1236.0"/>
<polygon points="1367.4,1412.4 1370.4,1412.4 1370.4,1435.0 1367.4,1435.0"/>
<polygon points="1006.0,1049.0 1009.0,1049.0 1009.0,1070.0 1006.0,1070.0"/>
<polygon points="1049.0,865.0 1070.4,865.0 1070.4,867.6 1049.0,867.6"/>
<polygon points="1023.8,726.8 1046.8,748.0 1042.6,752.2 1019.6,731.0"/>
<polygon points="1012.0,738.6 1035.0,759.8 1030.8,764.0 1007.8,742.8"/>
<polygon points="651.0,796.0 655.6,800.0 631.6,823.0 627.6,818.6"/>
<polygon points="460.0,652.0 471.0,652.0 471.0,674.0 460.0,674.0"/>
<polygon points="620.0,673.0 634.0,665.0 662.0,674.0 662.0,729.0 634.4,735.6 620.0,726.0"/>
<polygon points="678.0,675.0 681.0,675.0 681.0,698.0 678.0,698.0"/>
<polygon points="678.0,706.0 681.0,706.0 681.0,729.0 678.0,729.0"/>
<polygon points="716.0,784.0 727.0,784.0 727.0,787.0 716.0,787.0"/>
<polygon points="717.0,822.4 726.0,822.4 726.0,825.6 717.0,825.6"/>
<polygon points="716.0,855.0 726.0,855.0 726.0,857.6 716.0,857.6"/>
<polygon points="684.0,887.0 687.0,887.0 687.0,897.0 684.0,897.0"/>
<polygon points="755.0,887.0 758.0,887.0 758.0,897.0 755.0,897.0"/>
<polygon points="713.0,921.0 731.0,921.0 731.0,925.0 713.0,925.0"/>
<polygon points="782.0,880.0 820.0,898.0 830.0,929.6 828.0,979.0 820.0,997.0 776.4,999.6 755.6,981.6 742.4,949.6 742.4,936.4 749.0,916.0"/>
<polygon points="907.0,900.0 910.0,900.0 910.0,922.0 907.0,922.0"/>
<polygon points="926.0,899.0 953.0,890.0 971.0,898.0 971.0,957.0 953.0,963.0 926.0,955.0"/>
<polygon points="646.0,1068.0 648.6,1068.0 648.6,1077.0 646.0,1077.0"/>
<polygon points="768.4,1068.0 771.6,1068.0 771.6,1077.0 768.4,1077.0"/>
<polygon points="355.6,1105.6 378.6,1105.6 378.6,1109.0 355.6,1109.0"/>
<polygon points="414.0,1057.0 425.0,1049.0 459.0,1058.0 459.0,1112.0 425.0,1121.0 414.0,1113.0"/>
<polygon points="468.0,1090.0 471.6,1090.0 471.6,1112.0 468.0,1112.0"/>
<polygon points="494.4,906.6 506.5,906.6 506.5,915.7 494.4,915.7"/>
<polygon points="510.4,938.5 513.3,938.5 513.3,948.2 510.4,948.2"/>
<polygon points="569.6,1016.5 608.8,1025.6 624.0,1036.0 635.2,1050.4 640.0,1076.0 642.4,1097.6 605.6,1131.2 564.0,1113.6 560.8,1082.4 560.8,1077.9 580.0,1053.9 567.2,1045.9 560.8,1045.9 560.8,1032.8"/>
<polygon points="449.0,652.0 471.0,652.0 471.0,674.0 449.0,674.0"/>
</g>
<g fill="none" stroke="#00a000" stroke-width="1.4">
<polyline points="937.9,70.1 951.0,104.8 942.3,159.9 900.3,179.1 853.9,166.9"/>
<polyline points="841.6,98.6 849.5,124.9 839.9,152.0"/>
<polyline points="846.9,97.8 854.8,124.9 845.1,152.9"/>
<polyline points="925.6,71.5 941.9,105.6 932.6,155.5 900.3,170.4 847.8,154.6"/>
<polyline points="797.0,160.8 819.4,160.8"/>
<polyline points="425.0,350.0 372.0,425.0"/>
<polyline points="446.0,361.0 393.6,433.0"/>
<polyline points="351.0,315.0 425.0,350.0"/>
<polyline points="351.0,315.0 315.6,392.4 372.0,425.0"/>
<polyline points="561.6,396.0 557.0,417.0"/>
<polyline points="568.0,428.0 591.0,424.4"/>
<polyline points="573.6,450.0 597.0,454.0"/>
<polyline points="567.0,473.0 588.0,489.0"/>
<polyline points="561.0,501.0 588.0,489.0"/>
<polyline points="537.0,523.0 493.0,585.0"/>
<polyline points="762.0,158.0 625.0,308.0"/>
<polyline points="1011.6,319.0 1011.6,369.0"/>
<polyline points="1024.0,318.0 1024.0,369.0"/>
<polyline points="1011.6,319.0 1011.6,369.0"/>
<polyline points="1024.4,319.0 1024.4,369.0"/>
<polyline points="1053.0,312.0 1118.0,406.0 1105.0,451.0"/>
<polyline points="1057.0,431.0 1079.0,445.0"/>
<polyline points="1055.0,459.0 1075.6,454.0"/>
<polyline points="1067.0,478.0 1079.0,460.0"/>
<polyline points="1088.0,481.0 1088.0,460.0"/>
<polyline points="1104.0,478.0 1095.0,460.0"/>
<polyline points="1120.0,469.0 1099.0,457.0"/>
<polyline points="1129.0,456.0 1105.0,451.0"/>
<polyline points="1221.0,509.0 1230.0,530.0"/>
<polyline points="1243.0,499.0 1246.0,524.0"/>
<polyline points="1260.0,499.0 1260.0,524.0"/>
<polyline points="1197.0,535.0 1216.0,547.0"/>
<polyline points="1285.0,499.0 1352.0,499.0 1385.0,505.0"/>
<polyline points="1611.0,409.0 1585.0,440.0"/>
<polyline points="1626.0,457.0 1599.0,466.0"/>
<polyline points="1736.0,383.0 1765.0,414.0"/>
<polyline points="1720.0,386.0 1736.0,409.0 1762.0,431.0"/>
<polyline points="1409.0,673.0 1440.0,673.0"/>
<polyline points="1492.0,673.0 1523.0,673.0"/>
<polyline points="1409.0,679.4 1440.0,679.4"/>
<polyline points="1492.0,679.4 1523.0,679.4"/>
<polyline points="1601.0,763.0 1662.0,769.0"/>
<polyline points="1417.0,911.0 1442.0,936.0"/>
<polyline points="1482.0,911.0 1507.0,937.0"/>
<polyline points="1417.0,988.0 1442.0,964.0"/>
<polyline points="1417.0,998.0 1506.0,1018.0"/>
<polyline points="1437.0,1060.0 1514.0,1060.0"/>
<polyline points="1540.0,930.4 1662.0,924.0"/>
<polyline points="1663.0,1060.0 1688.0,1084.0"/>
<polyline points="1380.0,1124.0 1688.0,1124.0"/>
<polyline points="1462.0,1149.0 1462.0,1137.0 1489.0,1137.0 1489.0,1149.0"/>
<polyline points="1462.0,1149.0 1488.0,1149.0"/>
<polyline points="1462.0,1162.4 1488.0,1162.4"/>
<polyline points="1462.0,1175.6 1488.0,1175.6"/>
<polyline points="1604.0,1155.6 1630.4,1155.6 1630.4,1169.0 1604.0,1169.0 1604.0,1155.6"/>
<polyline points="1599.0,1176.0 1636.0,1176.0"/>
<polyline points="1464.0,1162.0 1487.0,1162.0"/>
<polyline points="1464.0,1175.0 1487.0,1175.0"/>
<polyline points="1464.0,1188.0 1487.0,1188.0"/>
<polyline points="1464.0,1201.0 1487.0,1201.0"/>
<polyline points="1464.0,1278.0 1487.0,1278.0"/>
<polyline points="1464.0,1292.0 1487.0,1292.0"/>
<polyline points="1464.0,1304.0 1487.0,1304.0"/>
<polyline points="1464.0,1317.0 1487.0,1317.0"/>
<polyline points="1464.0,1331.0 1487.0,1331.0"/>
<polyline points="1450.0,1349.0 1500.0,1349.0"/>
<polyline points="1450.0,1362.0 1500.0,1362.0"/>
<polyline points="1398.0,1401.0 1398.0,1446.0"/>
<polyline points="1411.0,1401.0 1411.0,1446.0"/>
<polyline points="1540.0,1401.0 1540.0,1446.0"/>
<polyline points="1553.0,1401.0 1553.0,1445.0"/>
<polyline points="1582.0,1411.0 1582.0,1436.0"/>
<polyline points="1588.0,1411.0 1588.0,1436.0"/>
<polyline points="1455.0,1401.0 1496.0,1401.0 1501.6,1408.0 1501.6,1446.0 1495.0,1459.0 1455.0,1459.0 1449.0,1446.0 1449.0,1408.0 1455.0,1401.0"/>
<polyline points="1463.0,1226.0 1463.0,1253.0"/>
<polyline points="1488.0,1226.0 1488.0,1253.0"/>
<polyline points="1238.4,1162.4 1261.0,1162.4"/>
<polyline points="1238.4,1175.6 1261.0,1175.6"/>
<polyline points="1238.4,1188.4 1261.0,1188.4"/>
<polyline points="1238.4,1201.6 1261.0,1201.6"/>
<polyline points="1320.0,1156.0 1347.0,1156.0 1347.0,1169.6 1320.0,1169.6 1320.0,1156.0"/>
<polyline points="1315.0,1176.0 1352.0,1176.0"/>
<polyline points="1166.0,1343.0 1166.0,1369.0"/>
<polyline points="1366.0,1349.0 1366.0,1336.0 1379.0,1336.0 1379.0,1349.0"/>
<polyline points="1263.0,1124.0 1460.0,1124.0"/>
<polyline points="1398.0,1401.0 1398.0,1446.0"/>
<polyline points="1411.0,1401.0 1411.0,1446.0"/>
<polyline points="1004.0,1082.0 1004.0,1046.0"/>
<polyline points="1237.0,1084.0 1261.0,1060.0"/>
<polyline points="802.0,792.0 821.0,773.0 828.0,779.0 809.0,798.0 802.0,792.0"/>
<polyline points="815.0,804.4 834.0,786.0 841.0,792.0 822.0,811.0 815.0,804.4"/>
<polyline points="541.0,644.0 566.0,644.0"/>
<polyline points="541.0,650.0 566.0,650.0"/>
<polyline points="541.0,656.0 566.0,656.0"/>
<polyline points="541.0,663.0 566.0,663.0"/>
<polyline points="541.0,669.0 566.0,669.0"/>
<polyline points="558.0,778.4 596.0,804.4"/>
<polyline points="478.0,682.0 490.0,707.0 514.0,720.0"/>
<polyline points="600.0,975.0 637.0,975.0"/>
<polyline points="612.0,968.0 612.0,1008.0"/>
<polyline points="637.0,968.0 637.0,1008.0"/>
<polyline points="600.0,1001.0 637.0,1001.0"/>
<polyline points="677.0,1104.0 753.0,1104.0"/>
<polyline points="696.0,1090.0 696.0,1104.0"/>
<polyline points="676.0,1067.0 676.0,1078.0"/>
<polyline points="828.0,1127.0 840.0,1127.0 840.0,1133.0 828.0,1133.0 828.0,1127.0"/>
<polyline points="269.0,1052.0 269.0,1077.0"/>
<polyline points="274.0,1052.0 274.0,1077.0"/>
<polyline points="280.0,1052.0 280.0,1077.0"/>
<polyline points="516.2,924.8 605.9,924.8"/>
<polyline points="515.6,905.3 515.6,917.7"/>
<polyline points="521.4,905.3 521.4,917.7"/>
<polyline points="488.3,828.6 513.6,839.0"/>
<polyline points="612.8,1032.8 627.2,1040.8 612.8,1047.2"/>
<polyline points="232.0,689.0 306.0,686.0 334.0,696.0 349.0,718.0"/>
<polyline points="231.0,676.0 309.0,673.0 344.0,689.0 360.0,711.0"/>
<polyline points="827.6,1127.0 841.0,1127.0 841.0,1133.6 827.6,1133.6 827.6,1127.0"/>
<polyline points="1421.0,543.7 1445.0,543.7"/>
<polyline points="1421.0,550.0 1446.0,550.0"/>
<polyline points="988.8,1047.0 988.8,1057.0"/>
<polyline points="995.0,1047.0 995.0,1057.0"/>
<polyline points="703.0,867.0 726.0,843.0"/>
<polyline points="710.0,872.0 733.0,848.0"/>
<polyline points="716.0,877.5 739.0,854.0"/>
<polyline points="722.0,884.0 746.0,860.0"/>
<polyline points="699.0,879.0 709.0,879.0 709.0,870.0"/>
<polyline points="734.0,868.0 734.0,879.0 744.0,879.0"/>
</g>
<g fill="none" stroke="#00ff00" stroke-width="3" stroke-linejoin="round" stroke-linecap="round">
<polyline points="796.1,160.8 788.3,160.8 784.4,135.4 793.5,103.0 816.3,96.0 846.9,97.8 877.5,71.5 902.0,60.1 923.9,69.8 937.9,70.1"/>
<polyline points="853.9,166.9 845.1,153.8 839.0,153.8 827.6,160.8 820.6,160.8 820.6,165.7 827.6,166.0 827.6,185.3 821.2,191.6 795.6,191.6 789.1,185.3 789.1,166.4 795.3,166.0 796.1,160.8"/>
<polyline points="795.6,199.6 821.2,199.6"/>
<polyline points="795.6,191.6 795.6,200.1"/>
<polyline points="766.4,72.4 762.9,120.5 762.0,157.3 786.5,195.8 779.5,222.0 783.9,225.2"/>
<polyline points="757.1,285.0 762.9,285.9"/>
<polyline points="853.9,166.9 837.3,173.0 831.1,199.3 830.3,237.8 888.9,221.1 981.6,208.9"/>
<polyline points="425.0,350.0 446.0,361.0 541.0,373.0 591.0,424.0 597.0,454.0 588.0,489.0 612.0,499.0 612.0,590.0 624.0,596.0 637.0,583.0 637.0,524.4 680.0,524.4"/>
<polyline points="372.0,425.0 393.6,433.0 383.0,544.0 402.0,600.0"/>
<polyline points="557.0,417.0 531.0,492.0 537.0,523.0 561.0,501.0 557.0,489.0 567.0,473.0 573.6,450.0 568.0,428.0 557.0,417.0"/>
<polyline points="285.0,414.4 348.0,437.4 363.0,544.0 383.0,544.0"/>
<polyline points="363.0,544.0 384.0,600.0"/>
<polyline points="372.0,545.0 393.0,600.0"/>
<polyline points="399.0,280.0 470.0,321.0 551.0,289.0 625.0,308.0 660.0,335.0"/>
<polyline points="554.0,367.0 557.0,328.0 654.0,340.0 660.0,335.0 680.0,352.0"/>
<polyline points="654.0,340.0 680.0,363.0"/>
<polyline points="554.0,367.0 641.0,401.0 677.0,430.0 677.0,480.0 669.0,492.0 669.0,518.0 680.0,518.0"/>
<polyline points="473.0,600.0 473.0,585.0 493.0,585.0 496.0,592.0 489.0,600.0"/>
<polyline points="766.0,280.0 765.0,286.0 776.0,354.0 824.0,396.0 873.0,406.0 880.0,485.0 873.0,492.0 843.0,508.0 786.0,492.0 708.0,492.0 701.0,480.0 701.0,430.0 704.0,408.0 705.0,386.0 712.0,380.0 660.0,335.0 640.0,319.0"/>
<polyline points="805.0,280.0 814.0,331.0 840.0,354.0 911.0,370.0 937.0,396.0 931.0,425.0 905.0,460.0 905.0,486.0 911.0,492.0 905.0,560.0 851.0,598.0 848.0,600.0"/>
<polyline points="905.0,560.0 915.0,563.0 866.0,600.0"/>
<polyline points="760.0,600.0 747.0,583.0 689.0,583.0 689.0,550.0 663.0,550.0 663.0,584.0 677.0,594.0 677.0,600.0"/>
<polyline points="640.0,524.4 715.0,524.4 715.0,557.0 747.0,557.0 760.0,544.0 760.0,518.0 670.0,518.0 670.0,492.0 677.0,480.0 677.0,432.0 640.0,400.0"/>
<polyline points="640.0,339.0 653.0,341.0 705.0,386.0"/>
<polyline points="653.0,341.0 660.0,335.0"/>
<polyline points="677.0,446.0 701.0,446.0"/>
<polyline points="677.0,480.0 701.0,480.0"/>
<polyline points="672.0,453.0 675.0,453.0 675.0,467.0 672.0,467.0 672.0,453.0"/>
<polyline points="765.0,286.0 757.0,286.0 769.0,357.0 821.0,402.0 854.0,415.0 857.0,447.0 844.0,476.0 799.0,469.0 747.0,447.0 712.0,380.0"/>
<polyline points="882.0,280.0 883.0,286.0 895.0,311.0 921.0,324.0 989.0,299.0 1040.0,299.0"/>
<polyline points="944.0,389.0 918.0,363.0 924.0,347.0 947.0,331.0 989.0,318.0 1024.0,318.0 1040.0,314.0"/>
<polyline points="944.0,389.0 957.0,386.0 957.0,373.0 967.0,373.0 967.0,385.0 989.0,385.0 999.0,388.0 1012.0,369.0 1024.0,369.0 1040.0,388.0"/>
<polyline points="1040.0,418.0 1034.0,412.0 989.0,418.0 941.0,495.0 915.0,563.0"/>
<polyline points="860.0,229.6 889.0,222.0 982.0,209.0 1063.0,234.0 1147.0,302.0 1169.0,399.0 1137.0,473.0 1060.0,496.0 1040.0,463.0 1049.0,428.0 1034.0,412.0 989.0,418.0 937.0,500.0"/>
<polyline points="889.0,222.0 892.0,233.0 982.0,220.0 982.0,209.0"/>
<polyline points="892.0,233.0 882.4,260.0 882.4,286.0 895.0,312.0 921.0,324.0 989.0,299.0 1050.0,299.0 1053.0,312.0 1024.0,318.0 989.0,318.0 947.0,331.0 924.0,347.0 918.0,363.0 944.0,389.0 958.0,386.0 958.0,373.0 966.0,373.0 966.0,386.0 989.0,386.0 998.0,389.0 1011.0,370.0 1024.0,370.0 1047.0,396.0 1057.0,431.0 1054.0,460.0 1066.0,479.0 1088.0,481.0 1104.0,478.0 1120.0,469.0 1130.0,456.0 1156.0,399.0 1138.0,310.0 1060.0,245.0 982.0,220.0"/>
<polyline points="1138.0,310.0 1147.0,304.0"/>
<polyline points="1156.0,399.0 1169.0,399.0"/>
<polyline points="1079.0,445.0 1105.0,451.0 1095.0,460.0 1079.0,460.0 1075.6,454.0 1079.0,445.0"/>
<polyline points="912.0,369.0 937.0,395.0"/>
<polyline points="1260.0,413.0 1189.0,479.0 1179.0,500.0"/>
<polyline points="795.3,200.1 762.9,285.9 770.8,320.0"/>
<polyline points="821.2,191.6 821.2,230.8 804.9,282.4 812.8,320.0"/>
<polyline points="755.9,285.9 762.0,320.0"/>
<polyline points="888.9,221.1 892.4,231.6 981.6,220.3 981.6,208.9"/>
<polyline points="1443.0,257.0 1433.0,283.0 1378.0,357.0 1273.0,402.0 1189.0,479.0 1150.0,560.0"/>
<polyline points="1433.0,285.0 1437.0,297.0"/>
<polyline points="1260.0,499.0 1282.0,431.0 1314.0,412.0 1314.0,405.0 1327.0,405.0 1327.0,412.0 1376.0,389.0 1382.0,370.0 1437.0,297.0 1488.0,344.0 1520.0,344.0"/>
<polyline points="1488.0,344.0 1488.0,376.0 1424.0,411.0 1394.0,424.0 1385.0,440.0 1385.0,505.0 1400.0,505.0"/>
<polyline points="1488.0,376.0 1520.0,376.0"/>
<polyline points="1501.0,344.0 1501.0,376.0"/>
<polyline points="1378.0,357.0 1382.0,370.0"/>
<polyline points="1291.0,482.4 1350.0,482.4 1350.0,499.0 1285.0,499.0 1291.0,482.4"/>
<polyline points="1311.0,482.4 1311.0,499.0"/>
<polyline points="1337.0,482.4 1337.0,499.0"/>
<polyline points="1189.0,560.0 1208.0,495.0 1221.0,509.0 1243.0,499.0 1285.0,499.0"/>
<polyline points="1213.0,560.0 1216.0,547.0 1230.0,530.0 1246.0,524.0 1299.0,524.0 1323.0,530.0 1400.0,530.0"/>
<polyline points="1400.0,505.0 1400.0,530.0"/>
<polyline points="1408.0,505.0 1408.0,530.0"/>
<polyline points="1421.0,472.0 1421.0,492.0 1408.0,505.0"/>
<polyline points="1445.0,490.0 1458.0,505.0 1458.0,530.0 1445.0,543.0"/>
<polyline points="1422.0,543.0 1408.0,530.0"/>
<polyline points="1424.0,428.0 1480.0,428.0 1492.0,432.0 1478.0,472.0 1420.0,472.0 1414.0,444.0 1424.0,428.0"/>
<polyline points="1480.0,428.0 1487.6,444.0"/>
<polyline points="1421.0,472.0 1421.0,492.0"/>
<polyline points="1445.0,472.0 1445.0,492.0"/>
<polyline points="1421.0,479.0 1445.0,479.0"/>
<polyline points="1421.0,487.0 1445.0,487.0"/>
<polyline points="1488.0,344.0 1611.0,344.0 1611.0,409.0 1626.0,457.0 1626.0,480.0 1623.0,517.0 1598.0,517.0 1598.0,511.0 1591.0,511.0 1591.0,518.0 1585.0,543.0 1585.0,609.0 1528.0,609.0 1528.0,620.0"/>
<polyline points="1488.0,376.0 1579.0,376.0 1585.0,383.0 1585.0,440.0 1598.0,466.0 1598.0,472.0 1591.0,472.0 1591.0,467.0 1521.0,467.0 1521.0,505.0 1559.0,543.0 1559.0,582.0 1482.0,582.0 1482.0,620.0"/>
<polyline points="1501.0,344.0 1501.0,376.0"/>
<polyline points="1591.0,481.0 1598.0,481.0 1598.0,504.0 1591.0,504.0 1591.0,481.0"/>
<polyline points="1628.0,458.0 1632.0,458.0 1632.0,481.0 1628.0,481.0 1628.0,458.0"/>
<polyline points="1460.0,505.0 1521.0,505.0"/>
<polyline points="1459.0,531.0 1546.0,531.0"/>
<polyline points="1467.0,506.0 1467.0,530.0"/>
<polyline points="1453.0,474.0 1478.0,474.0 1478.0,492.0 1482.0,520.0 1494.0,557.0 1521.0,603.0"/>
<polyline points="1453.0,474.0 1453.0,499.0"/>
<polyline points="1453.0,479.0 1478.0,479.0"/>
<polyline points="1453.0,487.0 1478.0,487.0"/>
<polyline points="1508.0,620.0 1508.0,609.0 1528.0,609.0"/>
<polyline points="1488.0,501.0 1502.0,501.0 1502.0,505.0 1488.0,505.0 1488.0,501.0"/>
<polyline points="1690.0,620.0 1662.0,596.0 1642.0,547.0 1633.0,480.0 1637.0,405.0 1711.0,327.0 1714.0,360.0 1720.0,386.0 1736.0,383.0 1736.0,334.0 1794.0,357.0 1794.0,392.0 1765.0,414.0 1762.0,431.0 1794.0,441.0 1808.0,473.0 1800.0,556.0 1792.0,608.0 1784.0,620.0"/>
<polyline points="1482.0,582.0 1482.0,880.0"/>
<polyline points="1482.0,582.0 1560.0,582.0 1560.0,560.0"/>
<polyline points="1585.0,560.0 1585.0,608.0 1508.0,608.0 1508.0,634.0 1585.0,634.0 1585.0,718.0 1508.0,718.0 1508.0,762.0"/>
<polyline points="1513.0,605.0 1528.0,605.0 1528.0,631.0 1513.0,631.0 1513.0,605.0"/>
<polyline points="1482.0,691.0 1559.0,691.0 1559.0,661.0 1488.0,661.0"/>
<polyline points="1482.0,756.0 1507.0,756.0"/>
<polyline points="1482.0,763.0 1601.0,763.0 1601.0,731.0 1662.0,731.0 1662.0,880.0"/>
<polyline points="1662.0,769.0 1676.0,769.0 1730.0,715.0 1730.0,880.0"/>
<polyline points="1676.0,769.0 1676.0,880.0"/>
<polyline points="1507.0,880.0 1507.0,866.0 1540.0,866.0 1540.0,880.0"/>
<polyline points="1495.0,560.0 1520.0,602.0"/>
<polyline points="1520.0,634.0 1524.0,678.0 1539.0,727.0 1537.0,776.0 1504.0,798.0 1434.0,798.0 1401.0,775.0 1394.0,731.0 1407.0,680.0 1412.0,602.0 1434.0,560.0 1439.0,550.0"/>
<polyline points="1420.0,550.0 1388.0,709.0 1380.0,730.0"/>
<polyline points="1447.0,550.0 1444.0,560.0 1412.0,714.0 1380.0,780.0"/>
<polyline points="1380.0,563.0 1398.0,566.0 1380.0,664.0"/>
<polyline points="1441.0,672.0 1448.0,662.0 1484.0,662.0 1492.0,674.0 1472.0,691.0 1459.0,691.0 1440.0,678.0 1441.0,672.0"/>
<polyline points="1647.0,560.0 1662.0,596.0 1700.0,630.0 1716.0,640.0 1732.0,643.6 1750.0,643.6 1763.0,640.0 1780.0,628.0"/>
<polyline points="1482.0,860.0 1482.0,911.0 1417.0,911.0 1417.0,1024.0 1450.0,1040.0 1450.0,1047.0 1437.0,1060.0 1380.0,1060.0"/>
<polyline points="1507.0,860.0 1507.0,866.0 1540.0,866.0 1540.0,989.0 1601.0,1008.0 1662.0,995.0 1662.0,860.0"/>
<polyline points="1507.0,866.0 1507.0,937.0 1443.0,937.0 1443.0,963.0 1479.0,976.0 1502.0,999.0 1508.0,1018.0 1501.0,1040.0 1501.0,1047.0 1514.0,1060.0 1688.0,1060.0 1688.0,1149.0 1636.0,1149.0 1636.0,1176.0 1662.0,1176.0 1662.0,1180.0"/>
<polyline points="1662.0,924.0 1676.0,924.0 1730.0,982.0 1730.0,860.0"/>
<polyline points="1676.0,860.0 1676.0,924.0"/>
<polyline points="1360.0,963.0 1417.0,963.0"/>
<polyline points="1360.0,973.0 1417.0,973.0"/>
<polyline points="1360.0,989.0 1417.0,989.0"/>
<polyline points="1360.0,998.0 1417.0,998.0"/>
<polyline points="1360.0,1015.0 1417.0,1015.0"/>
<polyline points="1360.0,1024.0 1417.0,1024.0"/>
<polyline points="1380.0,1149.0 1462.0,1149.0 1462.0,1180.0"/>
<polyline points="1488.0,1180.0 1488.0,1149.0 1599.0,1149.0 1599.0,1176.0 1514.0,1176.0 1514.0,1180.0"/>
<polyline points="1380.0,1176.0 1437.0,1176.0 1437.0,1180.0"/>
<polyline points="1380.0,1176.0 1437.0,1176.0 1437.0,1291.0 1462.0,1294.0"/>
<polyline points="1462.0,1160.0 1462.0,1333.0"/>
<polyline points="1488.0,1160.0 1488.0,1333.0"/>
<polyline points="1488.0,1294.0 1514.0,1291.0 1514.0,1176.0 1599.0,1176.0 1599.0,1160.0"/>
<polyline points="1636.0,1160.0 1636.0,1176.0 1662.0,1176.0 1662.0,1195.0 1649.0,1233.0 1610.0,1259.0 1610.0,1272.0 1643.0,1285.0 1662.0,1304.0 1662.0,1352.0 1643.0,1404.0 1588.0,1404.0 1588.0,1397.0 1581.0,1397.0 1581.0,1404.0 1553.0,1394.0 1508.0,1349.0 1494.0,1333.0 1456.0,1333.0 1443.0,1349.0 1380.0,1349.0"/>
<polyline points="1463.0,1226.0 1449.0,1233.0 1449.0,1247.0 1463.0,1253.0"/>
<polyline points="1488.0,1226.0 1501.6,1233.0 1501.6,1247.0 1488.0,1253.0"/>
<polyline points="1514.0,1201.0 1540.0,1227.0 1565.6,1227.0 1565.6,1252.4 1540.0,1252.4 1514.0,1278.0"/>
<polyline points="1540.0,1227.0 1540.0,1252.4"/>
<polyline points="1437.0,1201.0 1411.0,1227.0 1385.0,1227.0 1385.0,1252.4 1411.0,1252.4 1437.0,1278.0"/>
<polyline points="1411.0,1227.0 1411.0,1252.4"/>
<polyline points="1461.0,1334.0 1450.0,1350.0 1450.0,1362.0 1411.0,1401.0 1398.0,1401.0 1380.0,1408.0"/>
<polyline points="1489.0,1334.0 1500.0,1350.0 1500.0,1362.0 1540.0,1401.0 1553.0,1401.0 1581.0,1411.0 1695.0,1411.0 1695.0,1436.0 1581.0,1436.0 1553.0,1445.0 1540.0,1446.0 1506.0,1480.0"/>
<polyline points="1380.0,1439.0 1398.0,1446.0 1411.0,1446.0 1444.0,1480.0"/>
<polyline points="1455.0,1414.0 1495.0,1414.0 1495.0,1426.0 1483.0,1439.0 1483.0,1453.0 1468.0,1453.0 1468.0,1439.0 1455.0,1426.0 1455.0,1414.0"/>
<polyline points="1380.0,1349.0 1380.0,1378.0"/>
<polyline points="1237.0,1060.0 1237.0,1411.0 1209.0,1411.0 1202.0,1404.0 1202.0,1272.0 1118.0,1272.0 1118.0,1236.0 1136.0,1236.0"/>
<polyline points="1263.0,1149.0 1263.0,1411.0 1327.0,1411.0 1327.0,1366.0 1366.0,1366.0 1366.0,1349.0 1289.0,1349.0 1289.0,1176.0 1315.0,1176.0 1315.0,1149.0 1263.0,1149.0"/>
<polyline points="1237.0,1124.0 1263.0,1124.0 1263.0,1149.0 1237.0,1149.0"/>
<polyline points="1352.0,1149.0 1460.0,1149.0"/>
<polyline points="1352.0,1149.0 1352.0,1176.0 1437.0,1176.0 1437.0,1292.0 1460.0,1295.0"/>
<polyline points="1437.0,1203.0 1411.0,1227.0 1385.0,1227.0 1385.0,1253.0 1411.0,1253.0 1437.0,1278.0"/>
<polyline points="1411.0,1227.0 1411.0,1253.0"/>
<polyline points="1378.0,1349.0 1444.0,1349.0 1457.0,1333.0 1460.0,1332.0"/>
<polyline points="1378.0,1349.0 1378.0,1378.0 1340.0,1378.0 1340.0,1411.0 1372.0,1411.0 1398.0,1401.0 1411.0,1401.0 1449.0,1362.0 1449.0,1349.0 1460.0,1335.0"/>
<polyline points="1105.0,1130.0 1105.0,1205.0 1098.0,1205.0 1092.0,1211.0 1092.0,1298.0 1177.0,1298.0 1177.0,1420.0"/>
<polyline points="1130.0,1129.0 1130.0,1178.0 1136.0,1178.0 1166.0,1169.0 1186.0,1176.0 1186.0,1237.0 1182.0,1250.0 1166.0,1246.0 1136.0,1237.0 1136.0,1178.0"/>
<polyline points="1166.0,1245.0 1185.0,1237.0"/>
<polyline points="1060.0,1124.0 1076.0,1130.0 1102.0,1131.0 1130.0,1129.0 1172.0,1124.0 1208.0,1114.0 1209.0,1100.0"/>
<polyline points="1105.0,1100.0 1105.0,1130.0"/>
<polyline points="1130.0,1100.0 1130.0,1129.0"/>
<polyline points="1079.0,1420.0 1079.0,1343.0 1176.0,1343.0"/>
<polyline points="1105.0,1420.0 1105.0,1369.0 1176.0,1369.0"/>
<polyline points="1104.4,1349.0 1112.0,1349.0 1112.0,1362.4 1104.4,1362.4 1104.4,1349.0"/>
<polyline points="1111.0,1210.0 1136.0,1210.0"/>
<polyline points="1105.0,1205.0 1111.0,1205.0 1115.0,1209.6 1125.0,1209.6 1130.0,1205.0 1136.0,1205.0"/>
<polyline points="1268.0,1420.0 1268.0,1416.0 1277.0,1416.0 1277.0,1420.0"/>
<polyline points="1076.0,1130.0 1076.0,1143.0"/>
<polyline points="1079.0,1380.0 1079.0,1430.0 1105.0,1430.0 1105.0,1380.0"/>
<polyline points="1176.0,1370.0 1176.0,1437.0 1365.0,1437.0"/>
<polyline points="1202.0,1370.0 1202.0,1404.0 1209.0,1411.0 1237.0,1411.0 1237.0,1370.0"/>
<polyline points="1262.0,1370.0 1262.0,1411.0 1327.0,1411.0 1327.0,1370.0"/>
<polyline points="1339.0,1370.0 1339.0,1411.0 1365.0,1411.0"/>
<polyline points="1365.0,1411.0 1365.0,1437.0"/>
<polyline points="1373.0,1411.0 1373.0,1437.0"/>
<polyline points="1365.0,1411.0 1373.0,1411.0 1398.0,1401.0 1411.0,1401.0 1449.0,1362.0"/>
<polyline points="1365.0,1437.0 1373.0,1437.0 1398.0,1446.0 1411.0,1446.0 1449.0,1485.0 1460.0,1485.0"/>
<polyline points="1268.4,1416.4 1276.0,1416.4 1276.0,1430.4 1268.4,1430.4 1268.4,1416.4"/>
<polyline points="1449.0,1486.0 1500.0,1486.0 1540.0,1446.0"/>
<polyline points="1452.0,1488.0 1498.0,1488.0"/>
<polyline points="1047.0,840.0 1047.0,953.0 1144.0,999.0 1153.0,1001.0 1240.0,963.0 1338.0,873.0 1352.0,840.0"/>
<polyline points="1088.0,840.0 1072.0,861.0 1072.0,938.0 1150.0,973.0 1230.0,938.0 1304.0,870.0 1320.0,857.0 1328.0,840.0"/>
<polyline points="1047.0,862.0 1072.0,862.0"/>
<polyline points="1047.0,870.0 1072.0,870.0"/>
<polyline points="1012.0,1046.0 1037.0,982.0 1088.0,932.0 1122.0,875.0 1127.0,867.0 1197.0,892.0 1195.0,900.0 1215.0,933.0 1273.0,950.0 1273.0,938.0 1224.0,924.0 1207.0,894.0 1220.0,870.0 1263.0,856.0 1302.0,867.0"/>
<polyline points="1122.0,875.0 1195.0,900.0"/>
<polyline points="1127.0,867.0 1131.0,840.0"/>
<polyline points="1197.0,892.0 1207.0,894.0"/>
<polyline points="1197.0,892.0 1210.0,863.0 1266.0,843.0 1306.0,855.0 1302.0,867.0"/>
<polyline points="1210.0,863.0 1220.0,870.0"/>
<polyline points="1266.0,843.0 1263.0,856.0"/>
<polyline points="1306.0,855.0 1317.0,840.0"/>
<polyline points="1304.0,870.0 1359.0,962.0 1359.0,1024.0 1311.0,1046.0 1275.0,1020.0 1266.0,975.0 1205.0,962.0 1163.0,970.0 1146.0,999.0"/>
<polyline points="1143.0,1000.0 1162.0,1040.0 1214.0,1050.0 1208.0,1115.0 1173.0,1124.0 1131.0,1128.0 1104.0,1129.6 1074.0,1129.0 1027.0,1111.0 1012.0,1072.0 1012.0,1046.0"/>
<polyline points="1012.0,1056.0 1131.0,1056.0 1131.0,1160.0"/>
<polyline points="1015.0,1082.0 1104.0,1082.0 1104.0,1160.0"/>
<polyline points="1075.0,1129.0 1075.0,1142.0"/>
<polyline points="1000.0,1046.0 1012.0,1046.0"/>
<polyline points="1000.0,1082.0 1015.0,1082.0"/>
<polyline points="1418.0,560.0 1408.0,610.0 1390.0,709.0 1317.0,858.0 1302.0,869.0 1292.0,880.0"/>
<polyline points="1444.0,560.0 1412.0,712.0 1396.0,748.0 1336.0,872.0 1328.0,880.0"/>
<polyline points="1366.0,560.0 1398.0,566.0 1373.0,702.0 1344.0,780.0 1307.0,856.0"/>
<polyline points="1189.0,560.0 1186.0,573.0 1208.0,648.0 1199.0,659.0 1256.0,675.0 1257.0,660.0 1288.0,640.0 1272.0,620.0"/>
<polyline points="1214.0,560.0 1210.0,573.0 1231.0,586.0 1242.0,610.0"/>
<polyline points="1186.0,573.0 1210.0,573.0"/>
<polyline points="1208.0,648.0 1257.0,660.0"/>
<polyline points="1150.0,560.0 1140.0,582.0 1198.0,660.0"/>
<polyline points="1256.0,676.0 1298.0,650.0 1311.0,576.0 1324.0,560.0"/>
<polyline points="1100.0,720.0 1137.0,798.0 1127.0,866.0"/>
<polyline points="1100.0,748.0 1121.0,795.0 1100.0,825.0"/>
<polyline points="780.0,602.0 799.0,608.0 850.0,598.0 904.0,562.0"/>
<polyline points="850.0,598.0 857.0,607.0 915.0,563.0"/>
<polyline points="857.0,607.0 831.0,673.0 856.0,740.0 889.0,759.0 921.0,750.0 947.0,698.0 1002.0,663.0 1050.0,673.0 1095.0,712.0 1137.0,798.0 1128.0,866.0 1118.0,880.0"/>
<polyline points="1152.0,560.0 1140.0,582.0 1180.0,636.0"/>
<polyline points="1016.8,731.2 1043.8,756.2"/>
<polyline points="1012.2,735.8 1039.2,760.8"/>
<polyline points="780.0,674.0 821.0,703.0 824.0,770.0 844.0,788.0 876.0,788.0 937.0,774.0 959.0,718.0 978.0,699.0 1005.0,680.0 1047.0,690.0 1085.0,719.0 1120.0,795.0 1073.0,862.0 1073.0,880.0"/>
<polyline points="780.0,786.0 799.0,794.0 818.0,813.0 834.0,837.0 892.0,843.0 950.0,824.0 982.0,788.0 985.0,743.0 1003.0,724.0 1024.0,724.0 1051.0,749.0 1066.0,782.0 1053.0,811.0 1047.0,862.0 1047.0,880.0"/>
<polyline points="1047.0,690.0 1050.0,674.0 1095.0,712.0 1086.0,719.0"/>
<polyline points="1005.0,743.0 998.0,753.0 995.0,795.0 956.0,840.0 893.0,859.0 824.0,859.0 780.0,878.0"/>
<polyline points="1005.0,743.0 1030.0,769.0 1028.0,811.0 976.0,863.0 930.0,880.0"/>
<polyline points="837.0,859.0 837.0,855.6 850.0,855.6 850.0,859.0"/>
<polyline points="496.0,592.0 480.0,614.0 480.0,642.0"/>
<polyline points="505.0,642.0 505.0,624.0 515.0,618.0 535.0,621.0 541.0,642.0 541.0,702.0 534.0,724.0 519.0,724.0 519.0,718.0 491.0,703.0 480.0,678.0"/>
<polyline points="541.0,642.0 566.0,643.0"/>
<polyline points="566.0,643.0 605.0,627.0 644.0,627.0 677.0,614.0 677.0,596.0 663.0,582.0 663.0,560.0"/>
<polyline points="566.0,643.0 566.0,670.0 589.0,728.0 649.0,792.0 657.0,800.0 663.0,804.0 706.0,808.0 715.0,820.0"/>
<polyline points="534.0,724.0 534.0,749.0 558.0,777.0 596.0,803.0 620.0,812.0 626.0,818.0"/>
<polyline points="649.0,792.0 625.0,816.0"/>
<polyline points="657.0,800.0 633.0,824.0 669.0,866.0 703.0,866.0 715.0,858.0"/>
<polyline points="460.0,680.0 478.0,680.0 490.0,704.0 514.0,718.0 519.0,719.0"/>
<polyline points="460.0,675.0 480.0,675.0"/>
<polyline points="471.0,651.0 471.0,675.0"/>
<polyline points="460.0,651.0 471.0,651.0"/>
<polyline points="514.0,718.0 514.0,749.0"/>
<polyline points="519.0,726.0 519.0,749.0"/>
<polyline points="519.0,726.0 534.0,726.0"/>
<polyline points="460.0,744.0 470.0,756.0 519.0,749.0 534.0,749.0"/>
<polyline points="618.0,672.0 621.0,659.4 634.0,663.0 662.0,673.0 683.0,673.0 764.0,661.0 822.0,703.0 825.0,770.0 844.0,788.0 860.0,788.0"/>
<polyline points="618.0,672.0 618.0,727.0 634.0,737.0 662.0,730.0 683.0,730.0 695.0,743.0 695.0,769.0 709.0,781.0 709.0,814.0 715.0,820.0"/>
<polyline points="621.0,671.0 634.0,663.0"/>
<polyline points="662.0,673.0 662.0,730.0"/>
<polyline points="675.0,673.0 675.0,700.0"/>
<polyline points="675.0,704.0 675.0,730.0"/>
<polyline points="683.0,673.0 683.0,700.0 662.0,700.0"/>
<polyline points="662.0,704.0 683.0,704.0 683.0,730.0"/>
<polyline points="683.0,699.0 695.0,692.0 722.0,692.0"/>
<polyline points="683.0,704.0 729.0,707.0"/>
<polyline points="748.0,714.0 767.0,731.0 769.0,782.0 800.0,794.0 818.0,813.0 834.0,837.0 860.0,840.0"/>
<polyline points="748.0,714.0 748.0,769.0 734.0,781.0 734.0,814.0 728.0,820.0"/>
<polyline points="714.0,781.6 728.4,781.6 728.4,789.6 714.0,789.6 714.0,781.6"/>
<polyline points="715.0,820.0 728.0,820.0"/>
<polyline points="715.0,820.0 715.0,858.0"/>
<polyline points="728.0,820.0 728.0,858.0"/>
<polyline points="715.0,828.0 728.0,828.0"/>
<polyline points="460.0,766.0 477.0,782.0 558.0,778.0 596.0,803.0 602.0,840.0 583.0,856.0 551.0,853.0 514.0,833.0 493.0,825.0 460.0,828.0"/>
<polyline points="858.0,606.0 831.0,673.0 857.0,740.0 860.0,741.0"/>
<polyline points="630.0,820.0 670.0,866.0 704.0,866.0 714.0,857.0 714.0,820.0"/>
<polyline points="728.0,820.0 728.0,840.0 746.0,859.0 782.0,879.0 824.0,859.0 837.0,859.0 837.0,856.0 850.0,856.0 850.0,859.0 893.0,859.0 957.0,840.0 972.0,820.0"/>
<polyline points="1000.0,838.0 976.0,863.0 911.0,886.0 904.0,898.0 904.0,960.0 875.0,978.0 873.0,978.0 873.0,1040.0 879.0,1046.0 1000.0,1046.0"/>
<polyline points="847.0,1072.0 847.0,929.0 923.0,929.0"/>
<polyline points="847.0,984.0 824.0,997.0 821.0,998.0 776.0,1001.0 755.0,982.0 741.0,950.0 741.0,936.0 748.0,915.0 782.0,879.0 821.0,897.0 831.0,929.0 831.0,979.0 821.0,998.0"/>
<polyline points="755.0,981.0 828.0,978.0"/>
<polyline points="737.0,936.0 737.0,950.0 741.0,950.0"/>
<polyline points="737.0,936.0 741.0,936.0"/>
<polyline points="704.0,866.0 689.0,884.0 689.0,898.0 712.0,919.0 732.0,919.0 754.0,899.0 754.0,885.0 728.0,859.0"/>
<polyline points="704.0,866.0 748.0,915.0"/>
<polyline points="714.0,858.0 728.0,858.0"/>
<polyline points="682.0,885.0 689.0,885.0"/>
<polyline points="682.0,898.0 689.0,898.0"/>
<polyline points="682.0,885.0 682.0,898.0"/>
<polyline points="754.0,885.0 761.0,885.0 761.0,899.0 754.0,899.0"/>
<polyline points="712.0,919.0 712.0,926.0"/>
<polyline points="732.0,919.0 731.0,926.0"/>
<polyline points="712.0,926.0 731.0,926.0"/>
<polyline points="712.0,926.0 712.0,1033.0 795.0,1033.0 795.0,999.0"/>
<polyline points="731.0,926.0 731.0,1014.0 776.0,1014.0 776.0,1001.0"/>
<polyline points="682.0,885.0 618.0,885.0 611.0,891.0 611.0,968.0 600.0,978.0"/>
<polyline points="682.0,898.0 643.0,898.0 637.0,904.0 637.0,968.0 658.0,978.0 658.0,969.0 669.0,969.0 669.0,995.0 643.0,1002.0 637.0,1008.0 637.0,1040.0"/>
<polyline points="600.0,1000.0 611.0,1008.0 611.0,1024.0"/>
<polyline points="695.0,1037.0 754.0,1037.0 766.0,1064.0 766.0,1077.0 753.0,1090.0 753.0,1104.0 759.0,1111.0 759.0,1125.0 754.0,1130.0 677.0,1130.0 677.0,1092.0 693.0,1092.0 696.0,1090.0 683.0,1078.0 683.0,1065.0 695.0,1037.0"/>
<polyline points="645.0,1067.0 683.0,1067.0"/>
<polyline points="645.0,1078.0 683.0,1078.0"/>
<polyline points="650.0,1067.0 650.0,1078.0"/>
<polyline points="766.0,1067.0 950.0,1067.0 950.0,1091.0 972.0,1091.0 972.0,1058.0 1000.0,1058.0"/>
<polyline points="766.0,1078.0 938.0,1078.0 938.0,1120.0 992.0,1120.0 1000.0,1112.0"/>
<polyline points="774.0,1067.0 774.0,1078.0"/>
<polyline points="847.0,1072.0 950.0,1072.0"/>
<polyline points="759.0,1112.0 847.0,1112.0 847.0,1140.0"/>
<polyline points="759.0,1124.0 822.0,1124.0 822.0,1140.0"/>
<polyline points="690.0,1105.0 702.0,1105.0 702.0,1117.0 690.0,1117.0 690.0,1105.0"/>
<polyline points="924.0,898.0 953.0,888.0 973.0,897.0 973.0,958.0 970.0,969.0 953.0,964.0 924.0,956.0 924.0,898.0"/>
<polyline points="953.0,964.0 973.0,958.0"/>
<polyline points="904.0,898.0 924.0,898.0"/>
<polyline points="904.0,923.0 923.0,923.0"/>
<polyline points="913.0,898.0 913.0,923.0"/>
<polyline points="904.0,956.0 924.0,956.0"/>
<polyline points="600.0,873.0 606.0,873.0 606.0,916.0 600.0,916.0"/>
<polyline points="600.0,924.0 606.0,924.0 606.0,962.0 600.0,962.0"/>
<polyline points="287.0,944.0 206.0,1024.0 225.0,1133.0 280.6,1180.0"/>
<polyline points="287.0,944.0 360.0,934.0 469.0,963.0 473.0,970.0 473.0,996.0 470.0,998.0 354.0,969.0 309.0,979.0 254.0,1034.0 266.0,1052.0 266.0,1077.0 257.0,1124.0 332.0,1180.0"/>
<polyline points="283.0,933.0 287.0,944.0"/>
<polyline points="354.0,926.0 360.0,934.0"/>
<polyline points="205.0,1005.0 283.0,933.0 354.0,926.0 415.0,918.0 432.0,882.0 429.0,860.0"/>
<polyline points="266.0,1052.0 286.0,1052.0"/>
<polyline points="266.0,1077.0 286.0,1077.0"/>
<polyline points="286.0,1052.0 323.0,1001.0 373.0,989.0 449.0,1004.0 450.0,1021.0 447.0,1024.0 374.0,1009.0 344.0,1015.0 319.0,1055.0 319.0,1076.0 331.0,1098.0 354.0,1111.0 379.0,1111.0 386.0,1121.0 424.0,1134.0 427.0,1137.0 427.0,1150.0 424.0,1152.0 368.0,1144.0 319.0,1124.0 286.0,1077.0 286.0,1052.0"/>
<polyline points="354.0,1036.0 358.0,1031.0 360.0,1020.4 373.0,1020.4 386.4,1037.4 386.4,1050.0 379.4,1056.4 379.4,1110.0 354.0,1110.0 354.0,1077.0 329.0,1077.0 329.0,1053.0 354.0,1053.0 354.0,1036.0"/>
<polyline points="355.0,1104.0 379.4,1104.0"/>
<polyline points="382.0,1066.0 405.0,1066.0 405.0,1091.0 382.0,1091.0 382.0,1066.0"/>
<polyline points="412.0,1058.0 415.0,1043.0 425.0,1047.0 460.0,1057.0 460.0,1113.0 425.0,1123.0 412.0,1114.0 412.0,1058.0"/>
<polyline points="416.0,1054.0 425.0,1047.0"/>
<polyline points="460.0,1057.0 479.0,1057.0 479.0,1049.0 570.0,1014.0 600.0,1022.0"/>
<polyline points="460.0,1114.0 480.0,1114.0 493.0,1153.0 565.0,1153.0"/>
<polyline points="479.0,1057.0 479.0,1083.0"/>
<polyline points="460.0,1083.0 479.0,1083.0"/>
<polyline points="460.0,1088.0 479.0,1088.0"/>
<polyline points="465.0,1089.0 465.0,1113.0"/>
<polyline points="474.0,1089.0 474.0,1114.0"/>
<polyline points="479.0,1057.0 488.0,1048.0 567.0,1048.0 579.0,1055.0"/>
<polyline points="479.0,1081.0 488.0,1092.0 568.0,1092.0 579.0,1085.0 600.0,1085.0"/>
<polyline points="570.0,1014.0 560.0,1032.0 560.0,1076.0 564.0,1114.0 600.0,1128.0"/>
<polyline points="560.0,1080.0 600.0,1034.0"/>
<polyline points="579.0,1059.0 586.0,1059.0 586.0,1079.0 579.0,1079.0 579.0,1059.0"/>
<polyline points="541.0,1153.0 541.0,1156.0 554.0,1156.0 554.0,1153.0"/>
<polyline points="454.5,833.8 437.6,856.6 444.1,889.1 460.3,917.7 491.5,917.7"/>
<polyline points="454.5,833.8 488.3,828.0 513.6,839.0 534.4,863.1 518.2,879.3 509.7,870.2"/>
<polyline points="488.3,828.0 490.2,825.4"/>
<polyline points="513.9,839.0 514.9,833.5"/>
<polyline points="472.0,875.4 475.9,891.0 485.7,904.0 515.6,904.0 605.9,872.2 605.9,917.7"/>
<polyline points="420.0,909.2 431.7,882.6 427.8,850.1 447.3,827.3 492.8,824.1 514.9,833.5 550.7,853.3 582.5,856.6 602.7,840.3 596.2,805.9 586.4,800.0"/>
<polyline points="490.9,904.0 490.9,917.7"/>
<polyline points="509.7,904.0 509.7,917.7"/>
<polyline points="491.5,917.7 491.5,930.7 483.7,935.9 482.4,963.2 506.5,963.2 506.5,917.7"/>
<polyline points="509.7,917.7 509.7,931.3 516.2,931.3 516.2,924.2 522.7,924.2 522.7,917.7 509.7,917.7"/>
<polyline points="507.8,935.9 516.2,935.9 516.2,950.8 507.8,950.8 507.8,935.9"/>
<polyline points="507.8,955.4 516.2,955.4 516.2,963.2 521.4,963.2 521.4,988.5 572.8,988.5 572.8,963.2 579.9,963.2 579.9,967.7 591.6,967.7 591.6,963.2 605.9,963.2 605.9,923.5"/>
<polyline points="521.4,969.0 572.8,969.0"/>
<polyline points="521.4,975.5 572.8,975.5"/>
<polyline points="540.9,917.7 548.1,917.7 548.1,923.5 540.9,923.5 540.9,917.7"/>
<polyline points="566.3,917.7 573.4,917.7 573.4,923.5 566.3,923.5 566.3,917.7"/>
<polyline points="605.9,917.7 598.8,917.7 598.8,923.5 605.9,923.5"/>
<polyline points="579.3,970.3 579.3,995.0 607.2,1005.4 612.4,1008.0"/>
<polyline points="579.3,970.3 592.3,970.3 592.3,982.7 611.1,972.3 611.1,891.7"/>
<polyline points="569.6,1013.6 609.6,1024.0 627.2,1036.8 636.8,1048.8 640.0,1069.6 643.2,1096.8 660.8,1133.6 644.0,1149.6 605.6,1132.0 563.2,1152.8"/>
<polyline points="605.6,1131.2 643.2,1096.8"/>
<polyline points="556.0,1045.6 567.2,1045.6 580.0,1053.9 606.4,1053.9 612.8,1048.0 612.8,1026.4"/>
<polyline points="488.8,1091.2 567.2,1091.2 580.0,1084.8 612.0,1084.8 617.6,1079.2 617.6,1072.0 624.8,1072.0"/>
<polyline points="627.2,1032.8 640.0,1050.4 644.0,1054.4 644.0,1076.0"/>
<polyline points="479.2,1090.4 488.8,1091.2"/>
<polyline points="611.2,996.0 611.2,1024.8"/>
<polyline points="636.8,996.0 636.8,1034.4"/>
<polyline points="231.0,675.0 231.0,688.0 211.0,745.0 248.0,798.0 273.0,798.0 284.0,788.0 301.0,763.0 328.0,763.0"/>
<polyline points="304.0,768.0 325.0,768.0 328.0,780.0 332.0,788.0 344.0,788.0 349.0,778.0 352.0,757.0 360.0,725.0 374.0,714.0 400.0,700.0 420.0,693.0"/>
<polyline points="350.0,718.0 360.0,711.0 400.0,696.0 419.0,691.0 434.0,692.0 447.0,680.0"/>
<polyline points="350.0,718.0 335.0,740.0 325.0,769.0"/>
<polyline points="290.0,788.0 304.0,768.0"/>
<polyline points="290.0,788.0 298.0,800.0 318.0,803.0 332.0,801.0 360.0,801.0 368.0,778.0 376.0,747.0 387.0,731.0 422.0,718.0 434.0,718.0 470.0,756.0 514.0,750.0"/>
<polyline points="284.0,788.0 290.0,788.0"/>
<polyline points="331.0,789.0 331.0,801.0"/>
<polyline points="343.0,789.0 343.0,801.0"/>
<polyline points="218.0,808.0 283.0,811.0 302.0,805.0 351.0,815.0 367.0,805.0 379.0,752.0 360.0,710.0"/>
<polyline points="384.0,600.0 405.0,652.0 412.0,688.0 436.0,742.0 460.0,766.0"/>
<polyline points="393.0,600.0 411.0,650.0 405.0,652.0"/>
<polyline points="402.0,600.0 421.0,646.0 448.0,647.0 448.0,680.0"/>
<polyline points="405.0,652.0 420.0,646.0"/>
<polyline points="448.0,648.0 472.0,648.0"/>
<polyline points="448.0,676.0 478.0,676.0"/>
<polyline points="472.0,585.0 472.0,680.0"/>
<polyline points="443.0,656.0 446.0,656.0 446.0,669.6 443.0,669.6 443.0,656.0"/>
<polyline points="219.2,1100.0 225.0,1133.0 341.0,1231.0 479.0,1263.0 483.0,1259.0 483.0,1233.0 479.0,1229.0 357.0,1198.0 257.0,1124.0 264.0,1100.0"/>
<polyline points="847.0,1112.0 847.0,1169.0 766.0,1169.0 766.0,1156.0 821.0,1156.0 821.0,1124.0"/>
<polyline points="333.8,240.0 470.0,321.0"/>
<polyline points="1311.0,576.0 1330.0,550.0 1398.0,566.0"/>
<polyline points="1446.0,491.0 1451.0,499.0 1449.0,522.0 1437.5,555.0 1412.5,600.0"/>
<polyline points="1784.0,620.0 1780.0,628.0"/>
<polyline points="1421.0,543.0 1421.0,551.0"/>
<polyline points="1237.0,1060.0 1380.0,1060.0"/>
<polyline points="1000.0,1057.5 1012.0,1057.5"/>
<polyline points="600.0,1033.9 609.6,1024.8"/>
<polyline points="600.0,1128.0 605.6,1131.2"/>
<polyline points="714.0,820.0 729.0,840.5"/>
</g>
<g fill="#0080ff" stroke="#000" stroke-width="1">
<polygon points="1108.0,928.0 1123.6,935.6 1101.0,964.0"/>
<polygon points="1058.0,968.0 1074.4,966.4 1068.4,1002.4"/>
<polygon points="1040.0,992.4 1030.0,1005.0 1063.6,1019.6"/>
<polygon points="1113.0,987.6 1128.0,994.0 1106.0,1022.0"/>
<polygon points="1109.6,1024.4 1137.6,1047.6 1124.0,1057.6"/>
<polygon points="1075.0,1082.0 1087.0,1115.6 1070.0,1117.0"/>
<polygon points="1152.4,1088.0 1153.0,1124.0 1137.0,1120.4"/>
<polygon points="1163.0,1096.0 1198.4,1102.4 1192.0,1118.4"/>
</g>
<g id="markers">
<path fill="#ffffff" stroke="#000" stroke-width="1.3" fill-rule="evenodd" d="M540.6,353.5a12.9,12.9 0 1,0 25.8,0a12.9,12.9 0 1,0 -25.8,0zM546.2,353.5a7.3,7.3 0 1,0 14.6,0a7.3,7.3 0 1,0 -14.6,0z"/>
<path fill="#ffffff" stroke="#000" stroke-width="1.3" fill-rule="evenodd" d="M1441.6,669.0a12.9,12.9 0 1,0 25.8,0a12.9,12.9 0 1,0 -25.8,0zM1447.2,669.0a7.3,7.3 0 1,0 14.6,0a7.3,7.3 0 1,0 -14.6,0z"/>
<path fill="#ffffff" stroke="#000" stroke-width="1.3" fill-rule="evenodd" d="M1452.1,669.0a12.9,12.9 0 1,0 25.8,0a12.9,12.9 0 1,0 -25.8,0zM1457.7,669.0a7.3,7.3 0 1,0 14.6,0a7.3,7.3 0 1,0 -14.6,0z"/>
<path fill="#ffffff" stroke="#000" stroke-width="1.3" fill-rule="evenodd" d="M1463.6,668.0a12.9,12.9 0 1,0 25.8,0a12.9,12.9 0 1,0 -25.8,0zM1469.2,668.0a7.3,7.3 0 1,0 14.6,0a7.3,7.3 0 1,0 -14.6,0z"/>
<path fill="#ffffff" stroke="#000" stroke-width="1.3" fill-rule="evenodd" d="M1654.7,1320.0a12.9,12.9 0 1,0 25.8,0a12.9,12.9 0 1,0 -25.8,0zM1660.3,1320.0a7.3,7.3 0 1,0 14.6,0a7.3,7.3 0 1,0 -14.6,0z"/>
<path fill="#ffffff" stroke="#000" stroke-width="1.3" fill-rule="evenodd" d="M1654.7,1330.0a12.9,12.9 0 1,0 25.8,0a12.9,12.9 0 1,0 -25.8,0zM1660.3,1330.0a7.3,7.3 0 1,0 14.6,0a7.3,7.3 0 1,0 -14.6,0z"/>
<path fill="#ffffff" stroke="#000" stroke-width="1.3" fill-rule="evenodd" d="M1654.7,1340.0a12.9,12.9 0 1,0 25.8,0a12.9,12.9 0 1,0 -25.8,0zM1660.3,1340.0a7.3,7.3 0 1,0 14.6,0a7.3,7.3 0 1,0 -14.6,0z"/>
<path fill="#ffffff" stroke="#000" stroke-width="1.3" fill-rule="evenodd" d="M718.1,691.0a12.9,12.9 0 1,0 25.8,0a12.9,12.9 0 1,0 -25.8,0zM723.7,691.0a7.3,7.3 0 1,0 14.6,0a7.3,7.3 0 1,0 -14.6,0z"/>
<path fill="#ffffff" stroke="#000" stroke-width="1.3" fill-rule="evenodd" d="M727.1,698.0a12.9,12.9 0 1,0 25.8,0a12.9,12.9 0 1,0 -25.8,0zM732.7,698.0a7.3,7.3 0 1,0 14.6,0a7.3,7.3 0 1,0 -14.6,0z"/>
<path fill="#ffffff" stroke="#000" stroke-width="1.3" fill-rule="evenodd" d="M735.1,707.0a12.9,12.9 0 1,0 25.8,0a12.9,12.9 0 1,0 -25.8,0zM740.7,707.0a7.3,7.3 0 1,0 14.6,0a7.3,7.3 0 1,0 -14.6,0z"/>
<path fill="#ffffff" stroke="#000" stroke-width="1.3" fill-rule="evenodd" d="M840.1,962.4a12.9,12.9 0 1,0 25.8,0a12.9,12.9 0 1,0 -25.8,0zM845.7,962.4a7.3,7.3 0 1,0 14.6,0a7.3,7.3 0 1,0 -14.6,0z"/>
<path fill="#ffffff" stroke="#000" stroke-width="1.3" fill-rule="evenodd" d="M858.1,962.4a12.9,12.9 0 1,0 25.8,0a12.9,12.9 0 1,0 -25.8,0zM863.7,962.4a7.3,7.3 0 1,0 14.6,0a7.3,7.3 0 1,0 -14.6,0z"/>
<path fill="#ffffff" stroke="#000" stroke-width="1.3" fill-rule="evenodd" d="M503.1,1040.8a12.9,12.9 0 1,0 25.8,0a12.9,12.9 0 1,0 -25.8,0zM508.7,1040.8a7.3,7.3 0 1,0 14.6,0a7.3,7.3 0 1,0 -14.6,0z"/>
<path fill="#ffffff" stroke="#000" stroke-width="1.3" fill-rule="evenodd" d="M503.1,1050.4a12.9,12.9 0 1,0 25.8,0a12.9,12.9 0 1,0 -25.8,0zM508.7,1050.4a7.3,7.3 0 1,0 14.6,0a7.3,7.3 0 1,0 -14.6,0z"/>
<path fill="#ffffff" stroke="#000" stroke-width="1.3" fill-rule="evenodd" d="M503.1,1060.0a12.9,12.9 0 1,0 25.8,0a12.9,12.9 0 1,0 -25.8,0zM508.7,1060.0a7.3,7.3 0 1,0 14.6,0a7.3,7.3 0 1,0 -14.6,0z"/>
<path fill="#ffffff" stroke="#000" stroke-width="1.3" fill-rule="evenodd" d="M529.5,1040.8a12.9,12.9 0 1,0 25.8,0a12.9,12.9 0 1,0 -25.8,0zM535.1,1040.8a7.3,7.3 0 1,0 14.6,0a7.3,7.3 0 1,0 -14.6,0z"/>
<path fill="#ffffff" stroke="#000" stroke-width="1.3" fill-rule="evenodd" d="M529.5,1050.4a12.9,12.9 0 1,0 25.8,0a12.9,12.9 0 1,0 -25.8,0zM535.1,1050.4a7.3,7.3 0 1,0 14.6,0a7.3,7.3 0 1,0 -14.6,0z"/>
<path fill="#ffffff" stroke="#000" stroke-width="1.3" fill-rule="evenodd" d="M529.5,1060.0a12.9,12.9 0 1,0 25.8,0a12.9,12.9 0 1,0 -25.8,0zM535.1,1060.0a7.3,7.3 0 1,0 14.6,0a7.3,7.3 0 1,0 -14.6,0z"/>
<path fill="#ff8040" stroke="#000" stroke-width="1.3" fill-rule="evenodd" d="M479.7,643.6a12.9,12.9 0 1,0 25.8,0a12.9,12.9 0 1,0 -25.8,0zM485.3,643.6a7.3,7.3 0 1,0 14.6,0a7.3,7.3 0 1,0 -14.6,0z"/>
<path fill="#ff8040" stroke="#000" stroke-width="1.3" fill-rule="evenodd" d="M1235.1,619.0a12.9,12.9 0 1,0 25.8,0a12.9,12.9 0 1,0 -25.8,0zM1240.7,619.0a7.3,7.3 0 1,0 14.6,0a7.3,7.3 0 1,0 -14.6,0z"/>
<path fill="#ff8040" stroke="#000" stroke-width="1.3" fill-rule="evenodd" d="M1249.1,617.6a12.9,12.9 0 1,0 25.8,0a12.9,12.9 0 1,0 -25.8,0zM1254.7,617.6a7.3,7.3 0 1,0 14.6,0a7.3,7.3 0 1,0 -14.6,0z"/>
<path fill="#ff8040" stroke="#000" stroke-width="1.3" fill-rule="evenodd" d="M469.3,865.0a12.9,12.9 0 1,0 25.8,0a12.9,12.9 0 1,0 -25.8,0zM474.9,865.0a7.3,7.3 0 1,0 14.6,0a7.3,7.3 0 1,0 -14.6,0z"/>
<path fill="#ff8040" stroke="#000" stroke-width="1.3" fill-rule="evenodd" d="M476.5,865.0a12.9,12.9 0 1,0 25.8,0a12.9,12.9 0 1,0 -25.8,0zM482.1,865.0a7.3,7.3 0 1,0 14.6,0a7.3,7.3 0 1,0 -14.6,0z"/>
<path fill="#ff8040" stroke="#000" stroke-width="1.3" fill-rule="evenodd" d="M483.7,865.0a12.9,12.9 0 1,0 25.8,0a12.9,12.9 0 1,0 -25.8,0zM489.3,865.0a7.3,7.3 0 1,0 14.6,0a7.3,7.3 0 1,0 -14.6,0z"/>
<path fill="#ff8040" stroke="#000" stroke-width="1.3" fill-rule="evenodd" d="M1075.7,1143.0a12.9,12.9 0 1,0 25.8,0a12.9,12.9 0 1,0 -25.8,0zM1081.3,1143.0a7.3,7.3 0 1,0 14.6,0a7.3,7.3 0 1,0 -14.6,0z"/>
<path fill="#ff8040" stroke="#000" stroke-width="1.3" fill-rule="evenodd" d="M1230.1,1440.0a12.9,12.9 0 1,0 25.8,0a12.9,12.9 0 1,0 -25.8,0zM1235.7,1440.0a7.3,7.3 0 1,0 14.6,0a7.3,7.3 0 1,0 -14.6,0z"/>
<path fill="#ff0000" stroke="#000" stroke-width="1.3" fill-rule="evenodd" d="M695.7,408.6a12.9,12.9 0 1,0 25.8,0a12.9,12.9 0 1,0 -25.8,0zM701.3,408.6a7.3,7.3 0 1,0 14.6,0a7.3,7.3 0 1,0 -14.6,0z"/>
<path fill="#ff0000" stroke="#000" stroke-width="1.3" fill-rule="evenodd" d="M1420.7,522.0a12.9,12.9 0 1,0 25.8,0a12.9,12.9 0 1,0 -25.8,0zM1426.3,522.0a7.3,7.3 0 1,0 14.6,0a7.3,7.3 0 1,0 -14.6,0z"/>
<path fill="#ff0000" stroke="#000" stroke-width="1.3" fill-rule="evenodd" d="M706.7,1065.0a12.9,12.9 0 1,0 25.8,0a12.9,12.9 0 1,0 -25.8,0zM712.3,1065.0a7.3,7.3 0 1,0 14.6,0a7.3,7.3 0 1,0 -14.6,0z"/>
<path fill="#ffff00" stroke="#000" stroke-width="1.3" fill-rule="evenodd" d="M706.7,1054.4a12.9,12.9 0 1,0 25.8,0a12.9,12.9 0 1,0 -25.8,0zM712.3,1054.4a7.3,7.3 0 1,0 14.6,0a7.3,7.3 0 1,0 -14.6,0z"/>
<path fill="#ffff00" stroke="#000" stroke-width="1.3" fill-rule="evenodd" d="M1462.5,1423.6a12.9,12.9 0 1,0 25.8,0a12.9,12.9 0 1,0 -25.8,0zM1468.1,1423.6a7.3,7.3 0 1,0 14.6,0a7.3,7.3 0 1,0 -14.6,0z"/>
<path fill="#ff00ff" stroke="#000" stroke-width="1.3" fill-rule="evenodd" d="M354.1,1020.6a12.9,12.9 0 1,0 25.8,0a12.9,12.9 0 1,0 -25.8,0zM359.7,1020.6a7.3,7.3 0 1,0 14.6,0a7.3,7.3 0 1,0 -14.6,0z"/>
<path fill="#00ffff" stroke="#000" stroke-width="1.3" fill-rule="evenodd" d="M1420.7,515.0a12.9,12.9 0 1,0 25.8,0a12.9,12.9 0 1,0 -25.8,0zM1426.3,515.0a7.3,7.3 0 1,0 14.6,0a7.3,7.3 0 1,0 -14.6,0z"/>
<path fill="#00ffff" stroke="#000" stroke-width="1.3" fill-rule="evenodd" d="M621.5,1085.0a12.9,12.9 0 1,0 25.8,0a12.9,12.9 0 1,0 -25.8,0zM627.1,1085.0a7.3,7.3 0 1,0 14.6,0a7.3,7.3 0 1,0 -14.6,0z"/>
<path fill="#00ffff" stroke="#000" stroke-width="1.3" fill-rule="evenodd" d="M373.5,1043.4a12.9,12.9 0 1,0 25.8,0a12.9,12.9 0 1,0 -25.8,0zM379.1,1043.4a7.3,7.3 0 1,0 14.6,0a7.3,7.3 0 1,0 -14.6,0z"/>
</g>
<g id="legend" font-size="26.1">
<polygon points="287.4,1548.6 297,1586.4 278,1586.4" fill="#0080ff" stroke="#000" stroke-width="1"/>
<text x="317.3" y="1582.6" fill="#0080ff">Player start</text>
<path fill="#ffffff" stroke="#000" stroke-width="1.3" fill-rule="evenodd" d="M522.7,1572.6a12.9,12.9 0 1,0 25.8,0a12.9,12.9 0 1,0 -25.8,0zM528.3,1572.6a7.3,7.3 0 1,0 14.6,0a7.3,7.3 0 1,0 -14.6,0z"/>
<path fill="#ff8040" stroke="#000" stroke-width="1.3" fill-rule="evenodd" d="M735.1,1572.6a12.9,12.9 0 1,0 25.8,0a12.9,12.9 0 1,0 -25.8,0zM740.7,1572.6a7.3,7.3 0 1,0 14.6,0a7.3,7.3 0 1,0 -14.6,0z"/>
<text x="779.1" y="1582.6" fill="#ff8040">Save</text>
<path fill="#ff0000" stroke="#000" stroke-width="1.3" fill-rule="evenodd" d="M897.5,1572.6a12.9,12.9 0 1,0 25.8,0a12.9,12.9 0 1,0 -25.8,0zM903.1,1572.6a7.3,7.3 0 1,0 14.6,0a7.3,7.3 0 1,0 -14.6,0z"/>
<text x="941.1" y="1582.6" fill="#ff0000">1X shields</text>
<path fill="#ffff00" stroke="#000" stroke-width="1.3" fill-rule="evenodd" d="M1128.7,1572.6a12.9,12.9 0 1,0 25.8,0a12.9,12.9 0 1,0 -25.8,0zM1134.3,1572.6a7.3,7.3 0 1,0 14.6,0a7.3,7.3 0 1,0 -14.6,0z"/>
<text x="1172.8" y="1582.6" fill="#ffff00">2X shields</text>
<path fill="#ff00ff" stroke="#000" stroke-width="1.3" fill-rule="evenodd" d="M1360.5,1572.6a12.9,12.9 0 1,0 25.8,0a12.9,12.9 0 1,0 -25.8,0zM1366.1,1572.6a7.3,7.3 0 1,0 14.6,0a7.3,7.3 0 1,0 -14.6,0z"/>
<text x="1404.3" y="1582.6" fill="#ff00ff">3X shields</text>
<path fill="#00ffff" stroke="#000" stroke-width="1.3" fill-rule="evenodd" d="M1592.7,1572.6a12.9,12.9 0 1,0 25.8,0a12.9,12.9 0 1,0 -25.8,0zM1598.3,1572.6a7.3,7.3 0 1,0 14.6,0a7.3,7.3 0 1,0 -14.6,0z"/>
<text x="1636.2" y="1582.6" fill="#00ffff" font-size="25.7">Oxygen</text>
<text x="1769.7" y="1582.6" fill="#00ff00">4 WU</text>
<g stroke="#00ff00" stroke-width="3" stroke-linecap="round"><line x1="1846.4" y1="1570.4" x2="1950" y2="1570.4"/><line x1="1846.4" y1="1557.5" x2="1846.4" y2="1583.2"/><line x1="1898.3" y1="1557.5" x2="1898.3" y2="1583.2"/><line x1="1950" y1="1557.5" x2="1950" y2="1583.2"/></g>
<g stroke="#00a000" stroke-width="1"><line x1="1872.4" y1="1558" x2="1872.4" y2="1583"/><line x1="1924.4" y1="1558" x2="1924.4" y2="1583"/></g>
</g>
</svg>
</body></html>
